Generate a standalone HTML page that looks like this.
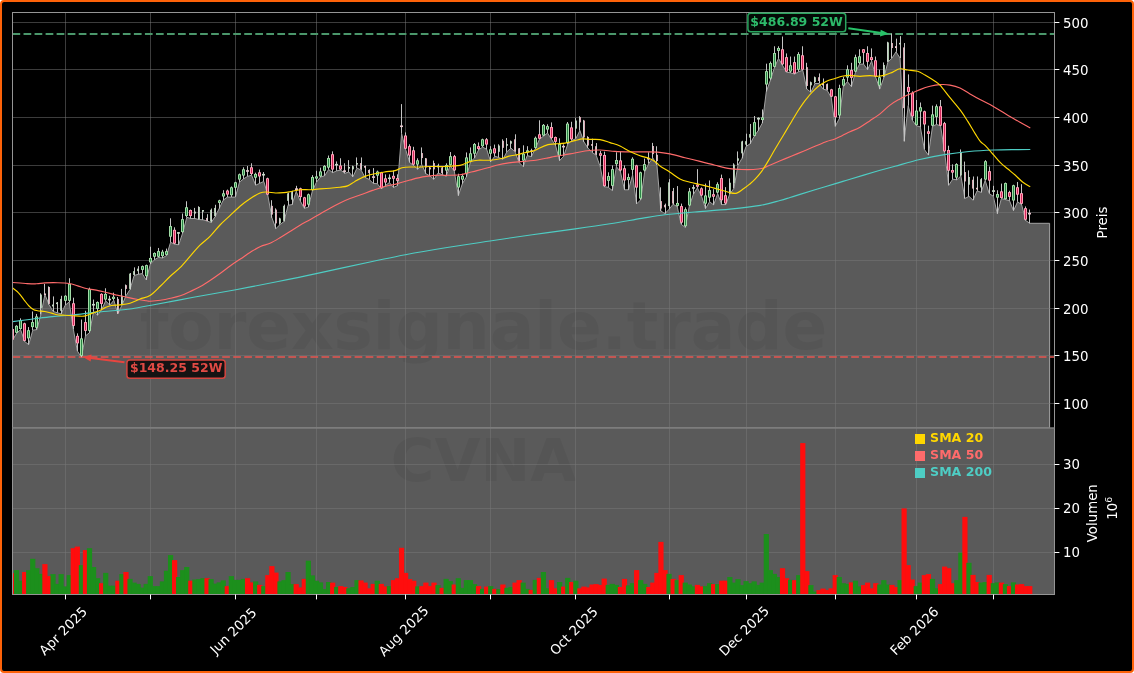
<!DOCTYPE html>
<html><head><meta charset="utf-8"><title>CVNA Chart</title>
<style>
html,body{margin:0;padding:0;background:#fff;}
#wrap{position:relative;width:1134px;height:673px;overflow:hidden;background:#fff;}
#frame{position:absolute;left:0;top:0;width:1130px;height:669px;border:2px solid #fd6209;border-radius:4px;background:#000;}
</style></head><body>
<div id="wrap"><div id="frame"></div>
<svg width="1134" height="673" viewBox="0 0 1134 673" style="position:absolute;left:0;top:0" font-family="DejaVu Sans, Liberation Sans, sans-serif">
<defs><clipPath id="cp"><rect x="12.5" y="12.5" width="1042.0" height="415.5"/></clipPath><clipPath id="cv"><rect x="12.5" y="428.0" width="1042.0" height="166.5"/></clipPath></defs>
<rect x="12.5" y="428.0" width="1042.0" height="166.5" fill="#5a5a5a"/>
<g clip-path="url(#cp)">
<path d="M12.5,428.0 L12.5,340.2 L16.6,333.3 L20.6,329.6 L24.7,341.5 L28.7,344.6 L32.8,330.2 L36.8,329.6 L40.9,314.6 L44.9,294.5 L49.0,304.5 L53.0,311.4 L57.1,312.7 L61.1,313.9 L65.2,305.2 L69.2,302.0 L73.3,329.0 L77.3,350.9 L81.4,357.1 L85.5,335.9 L89.5,332.7 L93.6,311.4 L97.6,315.2 L101.7,309.6 L105.7,300.8 L109.8,305.2 L113.8,300.2 L117.9,313.9 L121.9,305.2 L126.0,295.8 L130.0,289.5 L134.1,275.5 L138.1,274.3 L142.2,273.6 L146.2,279.9 L150.3,264.2 L154.3,259.9 L158.4,257.4 L162.5,258.0 L166.5,255.5 L170.6,242.3 L174.6,244.2 L178.7,244.8 L182.7,232.9 L186.8,217.3 L190.8,218.5 L194.9,218.5 L198.9,219.5 L203.0,219.8 L207.0,221.0 L211.1,222.5 L215.1,216.7 L219.2,208.5 L223.2,200.2 L227.3,197.1 L231.4,197.1 L235.4,197.1 L239.5,182.1 L243.5,178.9 L247.6,176.4 L251.6,175.2 L255.7,185.2 L259.7,183.3 L263.8,181.4 L267.8,195.2 L271.9,217.7 L275.9,228.6 L280.0,224.6 L284.0,221.5 L288.1,205.2 L292.1,204.6 L296.2,191.4 L300.2,200.8 L304.3,208.3 L308.4,207.1 L312.4,190.8 L316.5,182.1 L320.5,177.0 L324.6,175.8 L328.6,169.5 L332.7,172.7 L336.7,170.8 L340.8,170.2 L344.8,173.3 L348.9,172.0 L352.9,176.9 L357.0,168.1 L361.0,170.0 L365.1,177.5 L369.1,179.4 L373.2,183.4 L377.3,183.7 L381.3,188.7 L385.4,185.6 L389.4,182.5 L393.5,187.5 L397.5,185.6 L401.6,133.7 L405.6,149.3 L409.7,162.5 L413.7,165.6 L417.8,169.3 L421.8,164.6 L425.9,173.7 L429.9,175.9 L434.0,179.4 L438.0,173.1 L442.1,174.6 L446.1,176.2 L450.2,165.6 L454.3,171.2 L458.3,195.6 L462.4,183.7 L466.4,176.9 L470.5,161.8 L474.5,158.1 L478.6,149.9 L482.6,147.1 L486.7,149.3 L490.7,161.8 L494.8,156.2 L498.8,157.5 L502.9,159.3 L506.9,151.8 L511.0,148.1 L515.0,151.8 L519.1,162.5 L523.2,166.6 L527.2,155.6 L531.3,156.6 L535.3,148.7 L539.4,139.3 L543.4,136.2 L547.5,133.0 L551.5,139.3 L555.6,145.6 L559.6,160.6 L563.7,156.2 L567.7,144.3 L571.8,140.6 L575.8,138.7 L579.9,130.5 L583.9,141.8 L588.0,148.1 L592.1,152.5 L596.1,155.0 L600.2,166.7 L604.2,186.7 L608.3,187.3 L612.3,190.5 L616.4,166.7 L620.4,171.7 L624.5,189.8 L628.5,189.8 L632.6,174.8 L636.6,203.9 L640.7,199.8 L644.7,171.7 L648.8,163.5 L652.8,157.9 L656.9,164.8 L660.9,211.1 L665.0,213.6 L669.1,209.2 L673.1,204.2 L677.2,206.7 L681.2,224.3 L685.3,227.4 L689.3,206.1 L693.4,194.2 L697.4,187.9 L701.5,196.1 L705.5,208.6 L709.6,201.7 L713.6,204.9 L717.7,193.6 L721.7,204.6 L725.8,204.6 L729.8,194.0 L733.9,188.4 L738.0,165.2 L742.0,158.3 L746.1,146.4 L750.1,143.8 L754.2,136.3 L758.2,130.6 L762.3,123.1 L766.3,91.6 L770.4,80.3 L774.4,67.6 L778.5,58.4 L782.5,65.3 L786.6,72.2 L790.6,72.8 L794.7,74.1 L798.7,71.6 L802.8,70.3 L806.8,89.1 L810.9,92.2 L815.0,83.5 L819.0,83.5 L823.1,89.1 L827.1,90.3 L831.2,97.2 L835.2,126.4 L839.3,118.5 L843.3,86.6 L847.4,81.6 L851.4,86.6 L855.5,72.2 L859.5,64.1 L863.6,64.1 L867.6,69.7 L871.7,60.9 L875.7,77.2 L879.8,89.1 L883.9,77.5 L887.9,62.1 L892.0,58.1 L896.0,51.8 L900.1,58.1 L904.1,141.3 L908.2,105.7 L912.2,120.1 L916.3,125.7 L920.3,126.9 L924.4,149.5 L928.4,155.1 L932.5,126.3 L936.5,124.4 L940.6,126.0 L944.6,152.0 L948.7,185.3 L952.7,179.2 L956.8,179.8 L960.9,175.9 L964.9,198.5 L969.0,196.3 L973.0,200.2 L977.1,190.8 L981.1,192.4 L985.2,180.3 L989.2,193.5 L993.3,196.3 L997.3,213.7 L1001.4,198.5 L1005.4,199.6 L1009.5,200.7 L1013.5,210.6 L1017.6,201.8 L1021.6,204.6 L1025.7,220.5 L1029.8,223.3 L1049.6,223.3 L1049.6,428.0 Z" fill="#5a5a5a" stroke="#a2a2a2" stroke-width="1" stroke-linejoin="round"/>
</g>
<text x="483.5" y="348.5" text-anchor="middle" font-size="66" font-weight="bold" fill="#000" fill-opacity="0.055">forexsignale.trade</text>
<text x="483.5" y="480.5" text-anchor="middle" font-size="59.5" font-weight="bold" fill="#000" fill-opacity="0.055">CVNA</text>
<line x1="12.5" x2="1054.5" y1="403.5" y2="403.5" stroke="#787878" stroke-opacity="0.5" stroke-width="1"/>
<line x1="12.5" x2="1054.5" y1="355.5" y2="355.5" stroke="#787878" stroke-opacity="0.5" stroke-width="1"/>
<line x1="12.5" x2="1054.5" y1="308.5" y2="308.5" stroke="#787878" stroke-opacity="0.5" stroke-width="1"/>
<line x1="12.5" x2="1054.5" y1="260.5" y2="260.5" stroke="#787878" stroke-opacity="0.5" stroke-width="1"/>
<line x1="12.5" x2="1054.5" y1="212.5" y2="212.5" stroke="#787878" stroke-opacity="0.5" stroke-width="1"/>
<line x1="12.5" x2="1054.5" y1="165.5" y2="165.5" stroke="#787878" stroke-opacity="0.5" stroke-width="1"/>
<line x1="12.5" x2="1054.5" y1="117.5" y2="117.5" stroke="#787878" stroke-opacity="0.5" stroke-width="1"/>
<line x1="12.5" x2="1054.5" y1="69.5" y2="69.5" stroke="#787878" stroke-opacity="0.5" stroke-width="1"/>
<line x1="12.5" x2="1054.5" y1="22.5" y2="22.5" stroke="#787878" stroke-opacity="0.5" stroke-width="1"/>
<line x1="65.5" x2="65.5" y1="12.5" y2="594.5" stroke="#787878" stroke-opacity="0.5" stroke-width="1"/>
<line x1="150.5" x2="150.5" y1="12.5" y2="594.5" stroke="#787878" stroke-opacity="0.5" stroke-width="1"/>
<line x1="235.5" x2="235.5" y1="12.5" y2="594.5" stroke="#787878" stroke-opacity="0.5" stroke-width="1"/>
<line x1="316.5" x2="316.5" y1="12.5" y2="594.5" stroke="#787878" stroke-opacity="0.5" stroke-width="1"/>
<line x1="405.5" x2="405.5" y1="12.5" y2="594.5" stroke="#787878" stroke-opacity="0.5" stroke-width="1"/>
<line x1="490.5" x2="490.5" y1="12.5" y2="594.5" stroke="#787878" stroke-opacity="0.5" stroke-width="1"/>
<line x1="575.5" x2="575.5" y1="12.5" y2="594.5" stroke="#787878" stroke-opacity="0.5" stroke-width="1"/>
<line x1="669.5" x2="669.5" y1="12.5" y2="594.5" stroke="#787878" stroke-opacity="0.5" stroke-width="1"/>
<line x1="746.5" x2="746.5" y1="12.5" y2="594.5" stroke="#787878" stroke-opacity="0.5" stroke-width="1"/>
<line x1="835.5" x2="835.5" y1="12.5" y2="594.5" stroke="#787878" stroke-opacity="0.5" stroke-width="1"/>
<line x1="916.5" x2="916.5" y1="12.5" y2="594.5" stroke="#787878" stroke-opacity="0.5" stroke-width="1"/>
<line x1="993.5" x2="993.5" y1="12.5" y2="594.5" stroke="#787878" stroke-opacity="0.5" stroke-width="1"/>
<line x1="12.5" x2="1054.5" y1="552.5" y2="552.5" stroke="#787878" stroke-opacity="0.5" stroke-width="1"/>
<line x1="12.5" x2="1054.5" y1="508.5" y2="508.5" stroke="#787878" stroke-opacity="0.5" stroke-width="1"/>
<line x1="12.5" x2="1054.5" y1="464.5" y2="464.5" stroke="#787878" stroke-opacity="0.5" stroke-width="1"/>
<line x1="12.5" x2="1054.5" y1="34" y2="34" stroke="#4b976b" stroke-width="2" stroke-dasharray="7.71 3.325"/>
<line x1="12.5" x2="1054.5" y1="357" y2="357" stroke="#e2544f" stroke-width="2" stroke-dasharray="7.71 3.325" stroke-opacity="0.78"/>
<g clip-path="url(#cv)">
<rect x="9.90" y="573.2" width="5.2" height="23.3" fill="#ff0d0d"/>
<rect x="13.95" y="570.1" width="5.2" height="26.4" fill="#1c8f1c"/>
<rect x="18.01" y="580.7" width="5.2" height="15.8" fill="#1c8f1c"/>
<rect x="22.06" y="572.0" width="5.2" height="24.5" fill="#ff0d0d"/>
<rect x="26.11" y="570.1" width="5.2" height="26.4" fill="#1c8f1c"/>
<rect x="30.16" y="558.8" width="5.2" height="37.7" fill="#1c8f1c"/>
<rect x="34.22" y="568.2" width="5.2" height="28.3" fill="#1c8f1c"/>
<rect x="38.27" y="573.9" width="5.2" height="22.6" fill="#1c8f1c"/>
<rect x="42.32" y="564.1" width="5.2" height="32.4" fill="#ff0d0d"/>
<rect x="46.38" y="576.1" width="5.2" height="20.4" fill="#ff0d0d"/>
<rect x="50.43" y="574.1" width="5.2" height="22.4" fill="#1c8f1c"/>
<rect x="54.48" y="583.9" width="5.2" height="12.6" fill="#1c8f1c"/>
<rect x="58.53" y="574.1" width="5.2" height="22.4" fill="#1c8f1c"/>
<rect x="62.59" y="586.4" width="5.2" height="10.1" fill="#1c8f1c"/>
<rect x="66.64" y="575.1" width="5.2" height="21.4" fill="#1c8f1c"/>
<rect x="70.69" y="548.2" width="5.2" height="48.3" fill="#ff0d0d"/>
<rect x="74.74" y="546.6" width="5.2" height="49.9" fill="#ff0d0d"/>
<rect x="78.80" y="565.1" width="5.2" height="31.4" fill="#1c8f1c"/>
<rect x="82.85" y="550.1" width="5.2" height="46.4" fill="#ff0d0d"/>
<rect x="86.90" y="548.2" width="5.2" height="48.3" fill="#1c8f1c"/>
<rect x="90.96" y="567.0" width="5.2" height="29.5" fill="#1c8f1c"/>
<rect x="95.01" y="578.2" width="5.2" height="18.3" fill="#1c8f1c"/>
<rect x="99.06" y="583.2" width="5.2" height="13.3" fill="#ff0d0d"/>
<rect x="103.11" y="572.9" width="5.2" height="23.6" fill="#1c8f1c"/>
<rect x="107.17" y="585.7" width="5.2" height="10.8" fill="#1c8f1c"/>
<rect x="111.22" y="585.7" width="5.2" height="10.8" fill="#1c8f1c"/>
<rect x="115.27" y="580.7" width="5.2" height="15.8" fill="#ff0d0d"/>
<rect x="119.33" y="574.1" width="5.2" height="22.4" fill="#1c8f1c"/>
<rect x="123.38" y="572.0" width="5.2" height="24.5" fill="#ff0d0d"/>
<rect x="127.43" y="578.9" width="5.2" height="17.6" fill="#1c8f1c"/>
<rect x="131.48" y="582.6" width="5.2" height="13.9" fill="#1c8f1c"/>
<rect x="135.54" y="583.9" width="5.2" height="12.6" fill="#1c8f1c"/>
<rect x="139.59" y="587.6" width="5.2" height="8.9" fill="#1c8f1c"/>
<rect x="143.64" y="583.9" width="5.2" height="12.6" fill="#1c8f1c"/>
<rect x="147.70" y="576.1" width="5.2" height="20.4" fill="#1c8f1c"/>
<rect x="151.75" y="586.1" width="5.2" height="10.4" fill="#1c8f1c"/>
<rect x="155.80" y="586.1" width="5.2" height="10.4" fill="#1c8f1c"/>
<rect x="159.85" y="581.4" width="5.2" height="15.1" fill="#1c8f1c"/>
<rect x="163.91" y="570.7" width="5.2" height="25.8" fill="#1c8f1c"/>
<rect x="167.96" y="555.1" width="5.2" height="41.4" fill="#1c8f1c"/>
<rect x="172.01" y="560.1" width="5.2" height="36.4" fill="#ff0d0d"/>
<rect x="176.06" y="577.0" width="5.2" height="19.5" fill="#1c8f1c"/>
<rect x="180.12" y="570.1" width="5.2" height="26.4" fill="#1c8f1c"/>
<rect x="184.17" y="567.0" width="5.2" height="29.5" fill="#1c8f1c"/>
<rect x="188.22" y="580.7" width="5.2" height="15.8" fill="#ff0d0d"/>
<rect x="192.28" y="579.5" width="5.2" height="17.0" fill="#1c8f1c"/>
<rect x="196.33" y="579.1" width="5.2" height="17.4" fill="#1c8f1c"/>
<rect x="200.38" y="578.2" width="5.2" height="18.3" fill="#1c8f1c"/>
<rect x="204.43" y="578.2" width="5.2" height="18.3" fill="#ff0d0d"/>
<rect x="208.49" y="579.1" width="5.2" height="17.4" fill="#1c8f1c"/>
<rect x="212.54" y="583.6" width="5.2" height="12.9" fill="#1c8f1c"/>
<rect x="216.59" y="582.4" width="5.2" height="14.1" fill="#1c8f1c"/>
<rect x="220.65" y="580.4" width="5.2" height="16.1" fill="#1c8f1c"/>
<rect x="224.70" y="586.1" width="5.2" height="10.4" fill="#ff0d0d"/>
<rect x="228.75" y="576.1" width="5.2" height="20.4" fill="#1c8f1c"/>
<rect x="232.80" y="579.9" width="5.2" height="16.6" fill="#1c8f1c"/>
<rect x="236.86" y="579.9" width="5.2" height="16.6" fill="#1c8f1c"/>
<rect x="240.91" y="578.9" width="5.2" height="17.6" fill="#1c8f1c"/>
<rect x="244.96" y="578.2" width="5.2" height="18.3" fill="#ff0d0d"/>
<rect x="249.02" y="582.4" width="5.2" height="14.1" fill="#ff0d0d"/>
<rect x="253.07" y="581.4" width="5.2" height="15.1" fill="#1c8f1c"/>
<rect x="257.12" y="584.9" width="5.2" height="11.6" fill="#ff0d0d"/>
<rect x="261.17" y="586.1" width="5.2" height="10.4" fill="#1c8f1c"/>
<rect x="265.23" y="575.1" width="5.2" height="21.4" fill="#ff0d0d"/>
<rect x="269.28" y="566.1" width="5.2" height="30.4" fill="#ff0d0d"/>
<rect x="273.33" y="572.6" width="5.2" height="23.9" fill="#ff0d0d"/>
<rect x="277.38" y="581.4" width="5.2" height="15.1" fill="#1c8f1c"/>
<rect x="281.44" y="580.1" width="5.2" height="16.4" fill="#1c8f1c"/>
<rect x="285.49" y="572.0" width="5.2" height="24.5" fill="#1c8f1c"/>
<rect x="289.54" y="584.1" width="5.2" height="12.4" fill="#1c8f1c"/>
<rect x="293.60" y="584.1" width="5.2" height="12.4" fill="#ff0d0d"/>
<rect x="297.65" y="587.4" width="5.2" height="9.1" fill="#ff0d0d"/>
<rect x="301.70" y="578.9" width="5.2" height="17.6" fill="#ff0d0d"/>
<rect x="305.75" y="560.7" width="5.2" height="35.8" fill="#1c8f1c"/>
<rect x="309.81" y="575.4" width="5.2" height="21.1" fill="#1c8f1c"/>
<rect x="313.86" y="580.7" width="5.2" height="15.8" fill="#1c8f1c"/>
<rect x="317.91" y="582.4" width="5.2" height="14.1" fill="#1c8f1c"/>
<rect x="321.97" y="589.1" width="5.2" height="7.4" fill="#1c8f1c"/>
<rect x="326.02" y="582.0" width="5.2" height="14.5" fill="#1c8f1c"/>
<rect x="330.07" y="582.6" width="5.2" height="13.9" fill="#ff0d0d"/>
<rect x="334.12" y="587.0" width="5.2" height="9.5" fill="#1c8f1c"/>
<rect x="338.18" y="586.1" width="5.2" height="10.4" fill="#ff0d0d"/>
<rect x="342.23" y="587.0" width="5.2" height="9.5" fill="#ff0d0d"/>
<rect x="346.28" y="588.3" width="5.2" height="8.2" fill="#1c8f1c"/>
<rect x="350.34" y="587.0" width="5.2" height="9.5" fill="#1c8f1c"/>
<rect x="354.39" y="580.1" width="5.2" height="16.4" fill="#1c8f1c"/>
<rect x="358.44" y="580.4" width="5.2" height="16.1" fill="#ff0d0d"/>
<rect x="362.49" y="582.6" width="5.2" height="13.9" fill="#ff0d0d"/>
<rect x="366.55" y="588.3" width="5.2" height="8.2" fill="#ff0d0d"/>
<rect x="370.60" y="583.9" width="5.2" height="12.6" fill="#ff0d0d"/>
<rect x="374.65" y="580.7" width="5.2" height="15.8" fill="#1c8f1c"/>
<rect x="378.70" y="583.9" width="5.2" height="12.6" fill="#ff0d0d"/>
<rect x="382.76" y="586.4" width="5.2" height="10.1" fill="#ff0d0d"/>
<rect x="386.81" y="586.1" width="5.2" height="10.4" fill="#1c8f1c"/>
<rect x="390.86" y="580.1" width="5.2" height="16.4" fill="#ff0d0d"/>
<rect x="394.92" y="578.2" width="5.2" height="18.3" fill="#ff0d0d"/>
<rect x="398.97" y="547.8" width="5.2" height="48.7" fill="#ff0d0d"/>
<rect x="403.02" y="572.9" width="5.2" height="23.6" fill="#ff0d0d"/>
<rect x="407.07" y="579.1" width="5.2" height="17.4" fill="#ff0d0d"/>
<rect x="411.13" y="580.7" width="5.2" height="15.8" fill="#ff0d0d"/>
<rect x="415.18" y="586.4" width="5.2" height="10.1" fill="#1c8f1c"/>
<rect x="419.23" y="586.1" width="5.2" height="10.4" fill="#ff0d0d"/>
<rect x="423.29" y="582.6" width="5.2" height="13.9" fill="#ff0d0d"/>
<rect x="427.34" y="586.1" width="5.2" height="10.4" fill="#ff0d0d"/>
<rect x="431.39" y="582.6" width="5.2" height="13.9" fill="#ff0d0d"/>
<rect x="435.44" y="585.1" width="5.2" height="11.4" fill="#1c8f1c"/>
<rect x="439.50" y="587.9" width="5.2" height="8.6" fill="#ff0d0d"/>
<rect x="443.55" y="578.9" width="5.2" height="17.6" fill="#1c8f1c"/>
<rect x="447.60" y="581.1" width="5.2" height="15.4" fill="#1c8f1c"/>
<rect x="451.66" y="584.5" width="5.2" height="12.0" fill="#ff0d0d"/>
<rect x="455.71" y="578.2" width="5.2" height="18.3" fill="#1c8f1c"/>
<rect x="459.76" y="587.9" width="5.2" height="8.6" fill="#1c8f1c"/>
<rect x="463.81" y="580.1" width="5.2" height="16.4" fill="#1c8f1c"/>
<rect x="467.87" y="580.1" width="5.2" height="16.4" fill="#1c8f1c"/>
<rect x="471.92" y="584.1" width="5.2" height="12.4" fill="#1c8f1c"/>
<rect x="475.97" y="586.1" width="5.2" height="10.4" fill="#ff0d0d"/>
<rect x="480.02" y="588.9" width="5.2" height="7.6" fill="#1c8f1c"/>
<rect x="484.08" y="586.6" width="5.2" height="9.9" fill="#ff0d0d"/>
<rect x="488.13" y="586.1" width="5.2" height="10.4" fill="#1c8f1c"/>
<rect x="492.18" y="588.9" width="5.2" height="7.6" fill="#ff0d0d"/>
<rect x="496.24" y="589.1" width="5.2" height="7.4" fill="#1c8f1c"/>
<rect x="500.29" y="584.5" width="5.2" height="12.0" fill="#ff0d0d"/>
<rect x="504.34" y="587.9" width="5.2" height="8.6" fill="#1c8f1c"/>
<rect x="508.39" y="587.0" width="5.2" height="9.5" fill="#1c8f1c"/>
<rect x="512.45" y="582.6" width="5.2" height="13.9" fill="#ff0d0d"/>
<rect x="516.50" y="580.1" width="5.2" height="16.4" fill="#ff0d0d"/>
<rect x="520.55" y="582.6" width="5.2" height="13.9" fill="#1c8f1c"/>
<rect x="524.61" y="588.9" width="5.2" height="7.6" fill="#1c8f1c"/>
<rect x="528.66" y="589.9" width="5.2" height="6.6" fill="#ff0d0d"/>
<rect x="532.71" y="579.9" width="5.2" height="16.6" fill="#1c8f1c"/>
<rect x="536.76" y="577.9" width="5.2" height="18.6" fill="#ff0d0d"/>
<rect x="540.82" y="572.0" width="5.2" height="24.5" fill="#1c8f1c"/>
<rect x="544.87" y="588.3" width="5.2" height="8.2" fill="#1c8f1c"/>
<rect x="548.92" y="580.1" width="5.2" height="16.4" fill="#ff0d0d"/>
<rect x="552.98" y="588.3" width="5.2" height="8.2" fill="#ff0d0d"/>
<rect x="557.03" y="582.0" width="5.2" height="14.5" fill="#1c8f1c"/>
<rect x="561.08" y="586.6" width="5.2" height="9.9" fill="#ff0d0d"/>
<rect x="565.13" y="577.9" width="5.2" height="18.6" fill="#1c8f1c"/>
<rect x="569.19" y="582.0" width="5.2" height="14.5" fill="#ff0d0d"/>
<rect x="573.24" y="580.7" width="5.2" height="15.8" fill="#1c8f1c"/>
<rect x="577.29" y="588.3" width="5.2" height="8.2" fill="#ff0d0d"/>
<rect x="581.34" y="586.6" width="5.2" height="9.9" fill="#ff0d0d"/>
<rect x="585.40" y="587.4" width="5.2" height="9.1" fill="#ff0d0d"/>
<rect x="589.45" y="584.5" width="5.2" height="12.0" fill="#ff0d0d"/>
<rect x="593.50" y="584.1" width="5.2" height="12.4" fill="#ff0d0d"/>
<rect x="597.56" y="584.9" width="5.2" height="11.6" fill="#ff0d0d"/>
<rect x="601.61" y="578.6" width="5.2" height="17.9" fill="#ff0d0d"/>
<rect x="605.66" y="584.9" width="5.2" height="11.6" fill="#1c8f1c"/>
<rect x="609.71" y="583.9" width="5.2" height="12.6" fill="#1c8f1c"/>
<rect x="613.77" y="584.9" width="5.2" height="11.6" fill="#1c8f1c"/>
<rect x="617.82" y="587.0" width="5.2" height="9.5" fill="#ff0d0d"/>
<rect x="621.87" y="578.9" width="5.2" height="17.6" fill="#ff0d0d"/>
<rect x="625.93" y="585.4" width="5.2" height="11.1" fill="#1c8f1c"/>
<rect x="629.98" y="583.2" width="5.2" height="13.3" fill="#1c8f1c"/>
<rect x="634.03" y="570.1" width="5.2" height="26.4" fill="#ff0d0d"/>
<rect x="638.08" y="580.1" width="5.2" height="16.4" fill="#1c8f1c"/>
<rect x="642.14" y="583.9" width="5.2" height="12.6" fill="#1c8f1c"/>
<rect x="646.19" y="587.0" width="5.2" height="9.5" fill="#ff0d0d"/>
<rect x="650.24" y="582.6" width="5.2" height="13.9" fill="#ff0d0d"/>
<rect x="654.30" y="572.9" width="5.2" height="23.6" fill="#ff0d0d"/>
<rect x="658.35" y="541.9" width="5.2" height="54.6" fill="#ff0d0d"/>
<rect x="662.40" y="570.1" width="5.2" height="26.4" fill="#ff0d0d"/>
<rect x="666.45" y="573.9" width="5.2" height="22.6" fill="#1c8f1c"/>
<rect x="670.51" y="578.9" width="5.2" height="17.6" fill="#ff0d0d"/>
<rect x="674.56" y="580.1" width="5.2" height="16.4" fill="#1c8f1c"/>
<rect x="678.61" y="575.1" width="5.2" height="21.4" fill="#ff0d0d"/>
<rect x="682.66" y="582.6" width="5.2" height="13.9" fill="#1c8f1c"/>
<rect x="686.72" y="584.5" width="5.2" height="12.0" fill="#1c8f1c"/>
<rect x="690.77" y="586.4" width="5.2" height="10.1" fill="#1c8f1c"/>
<rect x="694.82" y="584.9" width="5.2" height="11.6" fill="#ff0d0d"/>
<rect x="698.88" y="586.4" width="5.2" height="10.1" fill="#ff0d0d"/>
<rect x="702.93" y="586.1" width="5.2" height="10.4" fill="#1c8f1c"/>
<rect x="706.98" y="583.2" width="5.2" height="13.3" fill="#1c8f1c"/>
<rect x="711.03" y="584.1" width="5.2" height="12.4" fill="#ff0d0d"/>
<rect x="715.09" y="584.1" width="5.2" height="12.4" fill="#1c8f1c"/>
<rect x="719.14" y="580.7" width="5.2" height="15.8" fill="#ff0d0d"/>
<rect x="723.19" y="580.7" width="5.2" height="15.8" fill="#ff0d0d"/>
<rect x="727.25" y="577.0" width="5.2" height="19.5" fill="#1c8f1c"/>
<rect x="731.30" y="582.6" width="5.2" height="13.9" fill="#1c8f1c"/>
<rect x="735.35" y="579.1" width="5.2" height="17.4" fill="#1c8f1c"/>
<rect x="739.40" y="585.1" width="5.2" height="11.4" fill="#1c8f1c"/>
<rect x="743.46" y="581.1" width="5.2" height="15.4" fill="#1c8f1c"/>
<rect x="747.51" y="583.2" width="5.2" height="13.3" fill="#1c8f1c"/>
<rect x="751.56" y="581.4" width="5.2" height="15.1" fill="#1c8f1c"/>
<rect x="755.62" y="584.9" width="5.2" height="11.6" fill="#1c8f1c"/>
<rect x="759.67" y="582.6" width="5.2" height="13.9" fill="#1c8f1c"/>
<rect x="763.72" y="534.0" width="5.2" height="62.5" fill="#1c8f1c"/>
<rect x="767.77" y="570.1" width="5.2" height="26.4" fill="#1c8f1c"/>
<rect x="771.83" y="573.9" width="5.2" height="22.6" fill="#1c8f1c"/>
<rect x="775.88" y="577.0" width="5.2" height="19.5" fill="#1c8f1c"/>
<rect x="779.93" y="568.2" width="5.2" height="28.3" fill="#ff0d0d"/>
<rect x="783.98" y="578.2" width="5.2" height="18.3" fill="#ff0d0d"/>
<rect x="788.04" y="579.9" width="5.2" height="16.6" fill="#1c8f1c"/>
<rect x="792.09" y="580.1" width="5.2" height="16.4" fill="#ff0d0d"/>
<rect x="796.14" y="575.1" width="5.2" height="21.4" fill="#1c8f1c"/>
<rect x="800.20" y="443.1" width="5.2" height="153.4" fill="#ff0d0d"/>
<rect x="804.25" y="571.1" width="5.2" height="25.4" fill="#ff0d0d"/>
<rect x="808.30" y="585.1" width="5.2" height="11.4" fill="#1c8f1c"/>
<rect x="812.35" y="591.6" width="5.2" height="4.9" fill="#1c8f1c"/>
<rect x="816.41" y="590.1" width="5.2" height="6.4" fill="#ff0d0d"/>
<rect x="820.46" y="588.6" width="5.2" height="7.9" fill="#ff0d0d"/>
<rect x="824.51" y="590.1" width="5.2" height="6.4" fill="#ff0d0d"/>
<rect x="828.57" y="588.3" width="5.2" height="8.2" fill="#ff0d0d"/>
<rect x="832.62" y="575.1" width="5.2" height="21.4" fill="#ff0d0d"/>
<rect x="836.67" y="577.0" width="5.2" height="19.5" fill="#1c8f1c"/>
<rect x="840.72" y="583.2" width="5.2" height="13.3" fill="#1c8f1c"/>
<rect x="844.78" y="583.9" width="5.2" height="12.6" fill="#1c8f1c"/>
<rect x="848.83" y="582.4" width="5.2" height="14.1" fill="#ff0d0d"/>
<rect x="852.88" y="580.7" width="5.2" height="15.8" fill="#1c8f1c"/>
<rect x="856.94" y="586.4" width="5.2" height="10.1" fill="#1c8f1c"/>
<rect x="860.99" y="585.1" width="5.2" height="11.4" fill="#ff0d0d"/>
<rect x="865.04" y="582.6" width="5.2" height="13.9" fill="#ff0d0d"/>
<rect x="869.09" y="588.3" width="5.2" height="8.2" fill="#ff0d0d"/>
<rect x="873.15" y="583.2" width="5.2" height="13.3" fill="#ff0d0d"/>
<rect x="877.20" y="584.5" width="5.2" height="12.0" fill="#1c8f1c"/>
<rect x="881.25" y="580.1" width="5.2" height="16.4" fill="#1c8f1c"/>
<rect x="885.30" y="584.5" width="5.2" height="12.0" fill="#1c8f1c"/>
<rect x="889.36" y="584.9" width="5.2" height="11.6" fill="#ff0d0d"/>
<rect x="893.41" y="587.0" width="5.2" height="9.5" fill="#ff0d0d"/>
<rect x="897.46" y="580.1" width="5.2" height="16.4" fill="#1c8f1c"/>
<rect x="901.52" y="508.4" width="5.2" height="88.1" fill="#ff0d0d"/>
<rect x="905.57" y="565.1" width="5.2" height="31.4" fill="#ff0d0d"/>
<rect x="909.62" y="579.5" width="5.2" height="17.0" fill="#ff0d0d"/>
<rect x="913.67" y="586.1" width="5.2" height="10.4" fill="#1c8f1c"/>
<rect x="917.73" y="582.6" width="5.2" height="13.9" fill="#1c8f1c"/>
<rect x="921.78" y="575.1" width="5.2" height="21.4" fill="#ff0d0d"/>
<rect x="925.83" y="574.1" width="5.2" height="22.4" fill="#ff0d0d"/>
<rect x="929.89" y="578.9" width="5.2" height="17.6" fill="#1c8f1c"/>
<rect x="933.94" y="588.3" width="5.2" height="8.2" fill="#1c8f1c"/>
<rect x="937.99" y="584.1" width="5.2" height="12.4" fill="#ff0d0d"/>
<rect x="942.04" y="566.6" width="5.2" height="29.9" fill="#ff0d0d"/>
<rect x="946.10" y="568.2" width="5.2" height="28.3" fill="#ff0d0d"/>
<rect x="950.15" y="583.2" width="5.2" height="13.3" fill="#ff0d0d"/>
<rect x="954.20" y="580.1" width="5.2" height="16.4" fill="#1c8f1c"/>
<rect x="958.26" y="552.6" width="5.2" height="43.9" fill="#1c8f1c"/>
<rect x="962.31" y="516.9" width="5.2" height="79.6" fill="#ff0d0d"/>
<rect x="966.36" y="562.8" width="5.2" height="33.7" fill="#1c8f1c"/>
<rect x="970.41" y="574.9" width="5.2" height="21.6" fill="#ff0d0d"/>
<rect x="974.47" y="582.0" width="5.2" height="14.5" fill="#ff0d0d"/>
<rect x="978.52" y="582.6" width="5.2" height="13.9" fill="#1c8f1c"/>
<rect x="982.57" y="582.0" width="5.2" height="14.5" fill="#1c8f1c"/>
<rect x="986.62" y="574.9" width="5.2" height="21.6" fill="#ff0d0d"/>
<rect x="990.68" y="583.2" width="5.2" height="13.3" fill="#1c8f1c"/>
<rect x="994.73" y="582.4" width="5.2" height="14.1" fill="#1c8f1c"/>
<rect x="998.78" y="582.6" width="5.2" height="13.9" fill="#ff0d0d"/>
<rect x="1002.84" y="584.1" width="5.2" height="12.4" fill="#1c8f1c"/>
<rect x="1006.89" y="586.1" width="5.2" height="10.4" fill="#ff0d0d"/>
<rect x="1010.94" y="582.4" width="5.2" height="14.1" fill="#1c8f1c"/>
<rect x="1014.99" y="584.5" width="5.2" height="12.0" fill="#ff0d0d"/>
<rect x="1019.05" y="584.1" width="5.2" height="12.4" fill="#ff0d0d"/>
<rect x="1023.10" y="586.1" width="5.2" height="10.4" fill="#ff0d0d"/>
<rect x="1027.15" y="586.1" width="5.2" height="10.4" fill="#ff0d0d"/>
</g>
<g clip-path="url(#cp)">
<rect x="12" y="328.34" width="1" height="11.90" fill="#c4c4c4"/>
<rect x="11" y="328.97" width="3" height="10.64" fill="#ffa0b6"/>
<rect x="12" y="329.82" width="1" height="8.94" fill="#d2265a"/>
<rect x="16" y="325.21" width="1" height="8.14" fill="#c4c4c4"/>
<rect x="15" y="325.84" width="3" height="6.89" fill="#a2dca6"/>
<rect x="16" y="326.69" width="1" height="5.19" fill="#2a8746"/>
<rect x="20" y="318.32" width="1" height="11.27" fill="#c4c4c4"/>
<rect x="19" y="320.20" width="3" height="8.77" fill="#a2dca6"/>
<rect x="20" y="321.05" width="1" height="7.07" fill="#2a8746"/>
<rect x="24" y="322.70" width="1" height="18.78" fill="#c4c4c4"/>
<rect x="23" y="323.33" width="3" height="17.53" fill="#ffa0b6"/>
<rect x="24" y="324.18" width="1" height="15.83" fill="#d2265a"/>
<rect x="28" y="327.09" width="1" height="17.53" fill="#c4c4c4"/>
<rect x="27" y="330.22" width="3" height="8.14" fill="#a2dca6"/>
<rect x="28" y="331.07" width="1" height="6.44" fill="#2a8746"/>
<rect x="32" y="311.44" width="1" height="18.78" fill="#c4c4c4"/>
<rect x="31" y="322.08" width="3" height="5.01" fill="#a2dca6"/>
<rect x="32" y="322.93" width="1" height="3.31" fill="#2a8746"/>
<rect x="36" y="313.94" width="1" height="15.65" fill="#c4c4c4"/>
<rect x="35" y="316.44" width="3" height="11.27" fill="#a2dca6"/>
<rect x="36" y="317.29" width="1" height="9.57" fill="#2a8746"/>
<rect x="40" y="293.28" width="1" height="21.29" fill="#c4c4c4"/>
<rect x="40" y="294.53" width="2" height="13.77" fill="#a9c6a9"/>
<rect x="40" y="294.53" width="1" height="13.77" fill="#cfd3cf"/>
<rect x="44" y="283.89" width="1" height="10.64" fill="#c4c4c4"/>
<rect x="44" y="293.48" width="2" height="1.60" fill="#e8c6ce"/>
<rect x="48" y="286.39" width="1" height="18.16" fill="#c4c4c4"/>
<rect x="48" y="287.02" width="2" height="16.90" fill="#dba6b3"/>
<rect x="48" y="287.02" width="1" height="16.90" fill="#cfd3cf"/>
<rect x="53" y="296.41" width="1" height="15.03" fill="#c4c4c4"/>
<rect x="52" y="304.55" width="2" height="1.88" fill="#c6d8c6"/>
<rect x="57" y="302.04" width="1" height="10.64" fill="#c4c4c4"/>
<rect x="56" y="302.50" width="2" height="1.60" fill="#c6d8c6"/>
<rect x="61" y="295.78" width="1" height="18.16" fill="#c4c4c4"/>
<rect x="60" y="298.91" width="2" height="11.90" fill="#a9c6a9"/>
<rect x="61" y="298.91" width="1" height="11.90" fill="#cfd3cf"/>
<rect x="65" y="295.16" width="1" height="10.02" fill="#c4c4c4"/>
<rect x="64" y="295.78" width="3" height="5.01" fill="#a2dca6"/>
<rect x="65" y="296.63" width="1" height="3.31" fill="#2a8746"/>
<rect x="69" y="278.25" width="1" height="23.79" fill="#c4c4c4"/>
<rect x="68" y="283.89" width="3" height="16.90" fill="#a2dca6"/>
<rect x="69" y="284.74" width="1" height="15.20" fill="#2a8746"/>
<rect x="73" y="297.66" width="1" height="31.30" fill="#c4c4c4"/>
<rect x="72" y="303.30" width="3" height="22.54" fill="#ffa0b6"/>
<rect x="73" y="304.15" width="1" height="20.84" fill="#d2265a"/>
<rect x="77" y="333.35" width="1" height="17.53" fill="#c4c4c4"/>
<rect x="76" y="335.85" width="3" height="7.51" fill="#ffa0b6"/>
<rect x="77" y="336.70" width="1" height="5.81" fill="#d2265a"/>
<rect x="81" y="319.57" width="1" height="37.57" fill="#c4c4c4"/>
<rect x="80" y="338.36" width="3" height="17.53" fill="#a2dca6"/>
<rect x="81" y="339.21" width="1" height="15.83" fill="#2a8746"/>
<rect x="85" y="310.81" width="1" height="25.04" fill="#c4c4c4"/>
<rect x="84" y="322.08" width="3" height="8.77" fill="#ffa0b6"/>
<rect x="85" y="322.93" width="1" height="7.07" fill="#d2265a"/>
<rect x="89" y="287.64" width="1" height="45.08" fill="#c4c4c4"/>
<rect x="88" y="288.90" width="3" height="41.95" fill="#a2dca6"/>
<rect x="89" y="289.75" width="1" height="40.25" fill="#2a8746"/>
<rect x="93" y="299.54" width="1" height="11.90" fill="#c4c4c4"/>
<rect x="92" y="303.92" width="3" height="1.63" fill="#c6d8c6"/>
<rect x="97" y="301.42" width="1" height="13.77" fill="#c4c4c4"/>
<rect x="96" y="302.04" width="3" height="6.89" fill="#a2dca6"/>
<rect x="97" y="302.89" width="1" height="5.19" fill="#2a8746"/>
<rect x="101" y="293.28" width="1" height="16.28" fill="#c4c4c4"/>
<rect x="100" y="293.90" width="3" height="10.02" fill="#ffa0b6"/>
<rect x="101" y="294.75" width="1" height="8.32" fill="#d2265a"/>
<rect x="105" y="288.27" width="1" height="12.52" fill="#c4c4c4"/>
<rect x="104" y="293.90" width="3" height="5.63" fill="#a2dca6"/>
<rect x="105" y="294.75" width="1" height="3.93" fill="#2a8746"/>
<rect x="109" y="295.78" width="1" height="9.39" fill="#c4c4c4"/>
<rect x="108" y="298.74" width="3" height="1.60" fill="#c6d8c6"/>
<rect x="113" y="292.65" width="1" height="7.51" fill="#c4c4c4"/>
<rect x="112" y="296.78" width="3" height="2.13" fill="#a2dca6"/>
<rect x="113" y="297.63" width="1" height="0.43" fill="#2a8746"/>
<rect x="117" y="297.04" width="1" height="16.90" fill="#c4c4c4"/>
<rect x="117" y="298.91" width="2" height="14.40" fill="#dba6b3"/>
<rect x="117" y="298.91" width="1" height="14.40" fill="#cfd3cf"/>
<rect x="121" y="288.90" width="1" height="16.28" fill="#c4c4c4"/>
<rect x="121" y="295.78" width="2" height="8.77" fill="#a9c6a9"/>
<rect x="121" y="295.78" width="1" height="8.77" fill="#cfd3cf"/>
<rect x="125" y="284.51" width="1" height="11.27" fill="#c4c4c4"/>
<rect x="125" y="285.14" width="2" height="3.76" fill="#dba6b3"/>
<rect x="125" y="285.14" width="1" height="3.76" fill="#cfd3cf"/>
<rect x="130" y="272.99" width="1" height="16.53" fill="#c4c4c4"/>
<rect x="129" y="273.62" width="2" height="15.28" fill="#a9c6a9"/>
<rect x="130" y="273.62" width="1" height="15.28" fill="#cfd3cf"/>
<rect x="134" y="267.37" width="1" height="8.14" fill="#c4c4c4"/>
<rect x="133" y="271.13" width="2" height="3.76" fill="#a9c6a9"/>
<rect x="134" y="271.13" width="1" height="3.76" fill="#cfd3cf"/>
<rect x="138" y="266.12" width="1" height="8.14" fill="#c4c4c4"/>
<rect x="137" y="268.63" width="2" height="2.50" fill="#a9c6a9"/>
<rect x="138" y="268.63" width="1" height="2.50" fill="#cfd3cf"/>
<rect x="142" y="265.50" width="1" height="8.14" fill="#c4c4c4"/>
<rect x="141" y="266.12" width="3" height="3.76" fill="#a2dca6"/>
<rect x="142" y="266.97" width="1" height="2.06" fill="#2a8746"/>
<rect x="146" y="264.62" width="1" height="15.28" fill="#c4c4c4"/>
<rect x="145" y="265.12" width="3" height="11.02" fill="#a2dca6"/>
<rect x="146" y="265.97" width="1" height="9.32" fill="#2a8746"/>
<rect x="150" y="246.71" width="1" height="17.53" fill="#c4c4c4"/>
<rect x="149" y="257.98" width="3" height="4.38" fill="#a2dca6"/>
<rect x="150" y="258.83" width="1" height="2.68" fill="#2a8746"/>
<rect x="154" y="252.35" width="1" height="7.51" fill="#c4c4c4"/>
<rect x="153" y="252.97" width="3" height="3.76" fill="#a2dca6"/>
<rect x="154" y="253.82" width="1" height="2.06" fill="#2a8746"/>
<rect x="158" y="247.97" width="1" height="9.39" fill="#c4c4c4"/>
<rect x="157" y="251.10" width="3" height="5.63" fill="#a2dca6"/>
<rect x="158" y="251.95" width="1" height="3.93" fill="#2a8746"/>
<rect x="162" y="249.84" width="1" height="8.14" fill="#c4c4c4"/>
<rect x="161" y="251.72" width="3" height="4.38" fill="#a2dca6"/>
<rect x="162" y="252.57" width="1" height="2.68" fill="#2a8746"/>
<rect x="166" y="248.59" width="1" height="6.89" fill="#c4c4c4"/>
<rect x="165" y="251.10" width="3" height="3.76" fill="#a2dca6"/>
<rect x="166" y="251.95" width="1" height="2.06" fill="#2a8746"/>
<rect x="170" y="218.29" width="1" height="24.04" fill="#c4c4c4"/>
<rect x="169" y="226.05" width="3" height="10.64" fill="#a2dca6"/>
<rect x="170" y="226.90" width="1" height="8.94" fill="#2a8746"/>
<rect x="174" y="227.30" width="1" height="16.90" fill="#c4c4c4"/>
<rect x="173" y="229.81" width="3" height="13.77" fill="#ffa0b6"/>
<rect x="174" y="230.66" width="1" height="12.07" fill="#d2265a"/>
<rect x="178" y="232.06" width="1" height="12.77" fill="#c4c4c4"/>
<rect x="177" y="232.14" width="3" height="1.60" fill="#c6d8c6"/>
<rect x="182" y="213.53" width="1" height="19.41" fill="#c4c4c4"/>
<rect x="181" y="219.17" width="3" height="12.90" fill="#a2dca6"/>
<rect x="182" y="220.02" width="1" height="11.20" fill="#2a8746"/>
<rect x="186" y="201.26" width="1" height="16.03" fill="#c4c4c4"/>
<rect x="185" y="207.27" width="3" height="8.77" fill="#a2dca6"/>
<rect x="186" y="208.12" width="1" height="7.07" fill="#2a8746"/>
<rect x="190" y="209.52" width="1" height="9.02" fill="#c4c4c4"/>
<rect x="189" y="210.02" width="3" height="6.01" fill="#ffa0b6"/>
<rect x="190" y="210.87" width="1" height="4.31" fill="#d2265a"/>
<rect x="194" y="207.90" width="1" height="10.64" fill="#c4c4c4"/>
<rect x="194" y="211.65" width="2" height="1.88" fill="#c6d8c6"/>
<rect x="198" y="206.27" width="1" height="13.27" fill="#c4c4c4"/>
<rect x="198" y="207.02" width="2" height="12.15" fill="#a9c6a9"/>
<rect x="198" y="207.02" width="1" height="12.15" fill="#cfd3cf"/>
<rect x="202" y="210.02" width="1" height="9.77" fill="#c4c4c4"/>
<rect x="202" y="210.02" width="2" height="1.63" fill="#c6d8c6"/>
<rect x="207" y="214.16" width="1" height="6.89" fill="#c4c4c4"/>
<rect x="206" y="217.91" width="2" height="3.13" fill="#dba6b3"/>
<rect x="207" y="217.91" width="1" height="3.13" fill="#cfd3cf"/>
<rect x="211" y="208.52" width="1" height="14.02" fill="#c4c4c4"/>
<rect x="210" y="209.77" width="2" height="11.90" fill="#a9c6a9"/>
<rect x="211" y="209.77" width="1" height="11.90" fill="#cfd3cf"/>
<rect x="215" y="204.77" width="1" height="11.90" fill="#c4c4c4"/>
<rect x="214" y="207.90" width="2" height="8.14" fill="#a9c6a9"/>
<rect x="215" y="207.90" width="1" height="8.14" fill="#cfd3cf"/>
<rect x="219" y="199.76" width="1" height="8.77" fill="#c4c4c4"/>
<rect x="218" y="200.38" width="3" height="2.50" fill="#a2dca6"/>
<rect x="219" y="201.23" width="1" height="0.80" fill="#2a8746"/>
<rect x="223" y="190.19" width="1" height="10.02" fill="#c4c4c4"/>
<rect x="222" y="193.32" width="3" height="3.13" fill="#a2dca6"/>
<rect x="223" y="194.17" width="1" height="1.43" fill="#2a8746"/>
<rect x="227" y="189.57" width="1" height="7.51" fill="#c4c4c4"/>
<rect x="226" y="190.57" width="3" height="4.01" fill="#ffa0b6"/>
<rect x="227" y="191.42" width="1" height="2.31" fill="#d2265a"/>
<rect x="231" y="186.44" width="1" height="10.64" fill="#c4c4c4"/>
<rect x="230" y="187.31" width="3" height="7.89" fill="#a2dca6"/>
<rect x="231" y="188.16" width="1" height="6.19" fill="#2a8746"/>
<rect x="235" y="181.80" width="1" height="15.28" fill="#c4c4c4"/>
<rect x="234" y="182.30" width="3" height="5.38" fill="#a2dca6"/>
<rect x="235" y="183.15" width="1" height="3.68" fill="#2a8746"/>
<rect x="239" y="173.54" width="1" height="8.51" fill="#c4c4c4"/>
<rect x="238" y="174.29" width="3" height="5.26" fill="#a2dca6"/>
<rect x="239" y="175.14" width="1" height="3.56" fill="#2a8746"/>
<rect x="243" y="167.28" width="1" height="11.65" fill="#c4c4c4"/>
<rect x="242" y="169.28" width="3" height="6.26" fill="#a2dca6"/>
<rect x="243" y="170.13" width="1" height="4.56" fill="#2a8746"/>
<rect x="247" y="166.02" width="1" height="10.39" fill="#c4c4c4"/>
<rect x="246" y="170.16" width="3" height="1.63" fill="#e8c6ce"/>
<rect x="251" y="163.27" width="1" height="11.90" fill="#c4c4c4"/>
<rect x="250" y="167.28" width="3" height="6.64" fill="#ffa0b6"/>
<rect x="251" y="168.13" width="1" height="4.94" fill="#d2265a"/>
<rect x="255" y="172.66" width="1" height="12.52" fill="#c4c4c4"/>
<rect x="254" y="173.91" width="3" height="3.76" fill="#a2dca6"/>
<rect x="255" y="174.76" width="1" height="2.06" fill="#2a8746"/>
<rect x="259" y="169.53" width="1" height="13.77" fill="#c4c4c4"/>
<rect x="258" y="172.29" width="3" height="4.13" fill="#ffa0b6"/>
<rect x="259" y="173.14" width="1" height="2.43" fill="#d2265a"/>
<rect x="263" y="172.04" width="1" height="9.39" fill="#c4c4c4"/>
<rect x="262" y="173.91" width="3" height="1.63" fill="#c6d8c6"/>
<rect x="267" y="177.67" width="1" height="17.53" fill="#c4c4c4"/>
<rect x="266" y="178.30" width="3" height="16.28" fill="#ffa0b6"/>
<rect x="267" y="179.15" width="1" height="14.58" fill="#d2265a"/>
<rect x="271" y="200.21" width="1" height="17.53" fill="#c4c4c4"/>
<rect x="271" y="205.84" width="2" height="8.77" fill="#dba6b3"/>
<rect x="271" y="205.84" width="1" height="8.77" fill="#cfd3cf"/>
<rect x="275" y="208.35" width="1" height="20.29" fill="#c4c4c4"/>
<rect x="275" y="209.60" width="2" height="13.77" fill="#dba6b3"/>
<rect x="275" y="209.60" width="1" height="13.77" fill="#cfd3cf"/>
<rect x="279" y="217.74" width="1" height="6.89" fill="#c4c4c4"/>
<rect x="279" y="218.37" width="2" height="5.01" fill="#a9c6a9"/>
<rect x="279" y="218.37" width="1" height="5.01" fill="#cfd3cf"/>
<rect x="284" y="204.59" width="1" height="16.90" fill="#c4c4c4"/>
<rect x="283" y="205.84" width="2" height="15.03" fill="#a9c6a9"/>
<rect x="284" y="205.84" width="1" height="15.03" fill="#cfd3cf"/>
<rect x="288" y="192.70" width="1" height="12.52" fill="#c4c4c4"/>
<rect x="287" y="193.32" width="2" height="7.51" fill="#a9c6a9"/>
<rect x="288" y="193.32" width="1" height="7.51" fill="#cfd3cf"/>
<rect x="292" y="190.82" width="1" height="13.77" fill="#c4c4c4"/>
<rect x="291" y="192.07" width="2" height="7.51" fill="#a9c6a9"/>
<rect x="292" y="192.07" width="1" height="7.51" fill="#cfd3cf"/>
<rect x="296" y="185.81" width="1" height="5.63" fill="#c4c4c4"/>
<rect x="295" y="188.31" width="3" height="1.88" fill="#e8c6ce"/>
<rect x="300" y="187.69" width="1" height="13.15" fill="#c4c4c4"/>
<rect x="299" y="188.31" width="3" height="8.77" fill="#ffa0b6"/>
<rect x="300" y="189.16" width="1" height="7.07" fill="#d2265a"/>
<rect x="304" y="196.83" width="1" height="11.52" fill="#c4c4c4"/>
<rect x="303" y="197.33" width="3" height="9.14" fill="#ffa0b6"/>
<rect x="304" y="198.18" width="1" height="7.44" fill="#d2265a"/>
<rect x="308" y="193.57" width="1" height="13.52" fill="#c4c4c4"/>
<rect x="307" y="194.32" width="3" height="10.27" fill="#a2dca6"/>
<rect x="308" y="195.17" width="1" height="8.57" fill="#2a8746"/>
<rect x="312" y="175.17" width="1" height="15.65" fill="#c4c4c4"/>
<rect x="311" y="177.04" width="3" height="13.15" fill="#a2dca6"/>
<rect x="312" y="177.89" width="1" height="11.45" fill="#2a8746"/>
<rect x="316" y="170.78" width="1" height="11.27" fill="#c4c4c4"/>
<rect x="315" y="176.42" width="3" height="2.13" fill="#a2dca6"/>
<rect x="316" y="177.27" width="1" height="0.43" fill="#2a8746"/>
<rect x="320" y="167.65" width="1" height="9.39" fill="#c4c4c4"/>
<rect x="319" y="171.41" width="3" height="5.01" fill="#a2dca6"/>
<rect x="320" y="172.26" width="1" height="3.31" fill="#2a8746"/>
<rect x="324" y="165.15" width="1" height="10.64" fill="#c4c4c4"/>
<rect x="323" y="166.02" width="3" height="4.76" fill="#a2dca6"/>
<rect x="324" y="166.87" width="1" height="3.06" fill="#2a8746"/>
<rect x="328" y="155.51" width="1" height="14.02" fill="#c4c4c4"/>
<rect x="327" y="158.01" width="3" height="9.64" fill="#a2dca6"/>
<rect x="328" y="158.86" width="1" height="7.94" fill="#2a8746"/>
<rect x="332" y="151.37" width="1" height="21.29" fill="#c4c4c4"/>
<rect x="331" y="154.25" width="3" height="15.28" fill="#ffa0b6"/>
<rect x="332" y="155.10" width="1" height="13.58" fill="#d2265a"/>
<rect x="336" y="161.39" width="1" height="9.39" fill="#c4c4c4"/>
<rect x="335" y="163.90" width="3" height="1.63" fill="#c6d8c6"/>
<rect x="340" y="158.26" width="1" height="11.90" fill="#c4c4c4"/>
<rect x="339" y="165.52" width="3" height="4.01" fill="#ffa0b6"/>
<rect x="340" y="166.37" width="1" height="2.31" fill="#d2265a"/>
<rect x="344" y="163.27" width="1" height="10.02" fill="#c4c4c4"/>
<rect x="343" y="170.36" width="3" height="1.60" fill="#e8c6ce"/>
<rect x="348" y="160.14" width="1" height="11.90" fill="#c4c4c4"/>
<rect x="348" y="166.98" width="2" height="1.60" fill="#c6d8c6"/>
<rect x="352" y="165.58" width="1" height="11.27" fill="#c4c4c4"/>
<rect x="352" y="166.21" width="2" height="3.13" fill="#a9c6a9"/>
<rect x="352" y="166.21" width="1" height="3.13" fill="#cfd3cf"/>
<rect x="356" y="157.44" width="1" height="10.64" fill="#c4c4c4"/>
<rect x="356" y="163.03" width="2" height="1.60" fill="#c6d8c6"/>
<rect x="361" y="157.44" width="1" height="12.52" fill="#c4c4c4"/>
<rect x="360" y="163.08" width="2" height="6.01" fill="#dba6b3"/>
<rect x="361" y="163.08" width="1" height="6.01" fill="#cfd3cf"/>
<rect x="365" y="165.58" width="1" height="11.90" fill="#c4c4c4"/>
<rect x="364" y="166.04" width="2" height="1.60" fill="#e8c6ce"/>
<rect x="369" y="169.34" width="1" height="10.02" fill="#c4c4c4"/>
<rect x="368" y="169.97" width="2" height="3.13" fill="#dba6b3"/>
<rect x="369" y="169.97" width="1" height="3.13" fill="#cfd3cf"/>
<rect x="373" y="168.09" width="1" height="15.28" fill="#c4c4c4"/>
<rect x="372" y="176.30" width="3" height="1.60" fill="#e8c6ce"/>
<rect x="377" y="170.59" width="1" height="13.15" fill="#c4c4c4"/>
<rect x="376" y="171.59" width="3" height="4.01" fill="#a2dca6"/>
<rect x="377" y="172.44" width="1" height="2.31" fill="#2a8746"/>
<rect x="381" y="171.84" width="1" height="16.90" fill="#c4c4c4"/>
<rect x="380" y="172.47" width="3" height="15.65" fill="#ffa0b6"/>
<rect x="381" y="173.32" width="1" height="13.95" fill="#d2265a"/>
<rect x="385" y="174.35" width="1" height="11.27" fill="#c4c4c4"/>
<rect x="384" y="178.36" width="3" height="4.13" fill="#ffa0b6"/>
<rect x="385" y="179.21" width="1" height="2.43" fill="#d2265a"/>
<rect x="389" y="174.35" width="1" height="8.14" fill="#c4c4c4"/>
<rect x="388" y="177.49" width="3" height="1.60" fill="#c6d8c6"/>
<rect x="393" y="170.59" width="1" height="16.90" fill="#c4c4c4"/>
<rect x="392" y="175.85" width="3" height="2.88" fill="#ffa0b6"/>
<rect x="393" y="176.70" width="1" height="1.18" fill="#d2265a"/>
<rect x="397" y="174.35" width="1" height="11.27" fill="#c4c4c4"/>
<rect x="396" y="178.11" width="3" height="2.75" fill="#ffa0b6"/>
<rect x="397" y="178.96" width="1" height="1.05" fill="#d2265a"/>
<rect x="401" y="104.10" width="1" height="29.55" fill="#c4c4c4"/>
<rect x="400" y="125.46" width="3" height="1.60" fill="#e8c6ce"/>
<rect x="405" y="132.40" width="1" height="16.90" fill="#c4c4c4"/>
<rect x="404" y="135.53" width="3" height="13.15" fill="#ffa0b6"/>
<rect x="405" y="136.38" width="1" height="11.45" fill="#d2265a"/>
<rect x="409" y="144.30" width="1" height="18.16" fill="#c4c4c4"/>
<rect x="408" y="146.17" width="3" height="9.39" fill="#ffa0b6"/>
<rect x="409" y="147.02" width="1" height="7.69" fill="#d2265a"/>
<rect x="413" y="146.80" width="1" height="18.78" fill="#c4c4c4"/>
<rect x="412" y="150.31" width="3" height="14.27" fill="#ffa0b6"/>
<rect x="413" y="151.16" width="1" height="12.57" fill="#d2265a"/>
<rect x="417" y="158.32" width="1" height="11.02" fill="#c4c4c4"/>
<rect x="416" y="160.32" width="3" height="4.26" fill="#a2dca6"/>
<rect x="417" y="161.17" width="1" height="2.56" fill="#2a8746"/>
<rect x="421" y="147.43" width="1" height="17.16" fill="#c4c4c4"/>
<rect x="421" y="153.06" width="2" height="5.01" fill="#dba6b3"/>
<rect x="421" y="153.06" width="1" height="5.01" fill="#cfd3cf"/>
<rect x="425" y="158.07" width="1" height="15.65" fill="#c4c4c4"/>
<rect x="425" y="158.32" width="2" height="9.14" fill="#dba6b3"/>
<rect x="425" y="158.32" width="1" height="9.14" fill="#cfd3cf"/>
<rect x="429" y="166.21" width="1" height="9.64" fill="#c4c4c4"/>
<rect x="429" y="167.46" width="2" height="1.88" fill="#e8c6ce"/>
<rect x="433" y="160.57" width="1" height="18.78" fill="#c4c4c4"/>
<rect x="433" y="163.08" width="2" height="6.26" fill="#dba6b3"/>
<rect x="433" y="163.08" width="1" height="6.26" fill="#cfd3cf"/>
<rect x="438" y="163.70" width="1" height="9.39" fill="#c4c4c4"/>
<rect x="437" y="165.33" width="2" height="2.13" fill="#a9c6a9"/>
<rect x="438" y="165.33" width="1" height="2.13" fill="#cfd3cf"/>
<rect x="442" y="166.21" width="1" height="8.39" fill="#c4c4c4"/>
<rect x="441" y="167.46" width="2" height="5.63" fill="#dba6b3"/>
<rect x="442" y="167.46" width="1" height="5.63" fill="#cfd3cf"/>
<rect x="446" y="163.33" width="1" height="12.90" fill="#c4c4c4"/>
<rect x="445" y="164.96" width="3" height="5.63" fill="#a2dca6"/>
<rect x="446" y="165.81" width="1" height="3.93" fill="#2a8746"/>
<rect x="450" y="152.06" width="1" height="13.52" fill="#c4c4c4"/>
<rect x="449" y="156.19" width="3" height="8.77" fill="#a2dca6"/>
<rect x="450" y="157.04" width="1" height="7.07" fill="#2a8746"/>
<rect x="454" y="154.94" width="1" height="16.28" fill="#c4c4c4"/>
<rect x="453" y="156.19" width="3" height="14.15" fill="#ffa0b6"/>
<rect x="454" y="157.04" width="1" height="12.45" fill="#d2265a"/>
<rect x="458" y="173.72" width="1" height="21.91" fill="#c4c4c4"/>
<rect x="457" y="176.23" width="3" height="11.27" fill="#a2dca6"/>
<rect x="458" y="177.08" width="1" height="9.57" fill="#2a8746"/>
<rect x="462" y="173.72" width="1" height="10.02" fill="#c4c4c4"/>
<rect x="461" y="175.85" width="3" height="3.76" fill="#a2dca6"/>
<rect x="462" y="176.70" width="1" height="2.06" fill="#2a8746"/>
<rect x="466" y="152.44" width="1" height="24.42" fill="#c4c4c4"/>
<rect x="465" y="157.44" width="3" height="16.28" fill="#a2dca6"/>
<rect x="466" y="158.29" width="1" height="14.58" fill="#2a8746"/>
<rect x="470" y="147.43" width="1" height="14.40" fill="#c4c4c4"/>
<rect x="469" y="153.31" width="3" height="7.89" fill="#a2dca6"/>
<rect x="470" y="154.16" width="1" height="6.19" fill="#2a8746"/>
<rect x="474" y="143.04" width="1" height="15.03" fill="#c4c4c4"/>
<rect x="473" y="144.05" width="3" height="9.64" fill="#a2dca6"/>
<rect x="474" y="144.90" width="1" height="7.94" fill="#2a8746"/>
<rect x="478" y="142.44" width="1" height="7.51" fill="#c4c4c4"/>
<rect x="477" y="146.19" width="3" height="2.75" fill="#ffa0b6"/>
<rect x="478" y="147.04" width="1" height="1.05" fill="#d2265a"/>
<rect x="482" y="138.68" width="1" height="8.39" fill="#c4c4c4"/>
<rect x="481" y="139.30" width="3" height="6.89" fill="#a2dca6"/>
<rect x="482" y="140.15" width="1" height="5.19" fill="#2a8746"/>
<rect x="486" y="138.05" width="1" height="11.27" fill="#c4c4c4"/>
<rect x="485" y="139.30" width="3" height="5.26" fill="#ffa0b6"/>
<rect x="486" y="140.15" width="1" height="3.56" fill="#d2265a"/>
<rect x="490" y="146.19" width="1" height="15.65" fill="#c4c4c4"/>
<rect x="489" y="149.32" width="3" height="4.38" fill="#a2dca6"/>
<rect x="490" y="150.17" width="1" height="2.68" fill="#2a8746"/>
<rect x="494" y="144.56" width="1" height="11.65" fill="#c4c4c4"/>
<rect x="493" y="148.32" width="3" height="5.01" fill="#ffa0b6"/>
<rect x="494" y="149.17" width="1" height="3.31" fill="#d2265a"/>
<rect x="498" y="144.31" width="1" height="13.15" fill="#c4c4c4"/>
<rect x="498" y="145.57" width="2" height="6.26" fill="#a9c6a9"/>
<rect x="498" y="145.57" width="1" height="6.26" fill="#cfd3cf"/>
<rect x="502" y="139.30" width="1" height="20.04" fill="#c4c4c4"/>
<rect x="502" y="140.81" width="2" height="7.01" fill="#dba6b3"/>
<rect x="502" y="140.81" width="1" height="7.01" fill="#cfd3cf"/>
<rect x="506" y="138.05" width="1" height="13.77" fill="#c4c4c4"/>
<rect x="506" y="144.14" width="2" height="1.60" fill="#c6d8c6"/>
<rect x="510" y="140.56" width="1" height="7.51" fill="#c4c4c4"/>
<rect x="510" y="141.18" width="2" height="2.50" fill="#a9c6a9"/>
<rect x="510" y="141.18" width="1" height="2.50" fill="#cfd3cf"/>
<rect x="515" y="134.30" width="1" height="17.53" fill="#c4c4c4"/>
<rect x="514" y="139.30" width="2" height="11.90" fill="#dba6b3"/>
<rect x="515" y="139.30" width="1" height="11.90" fill="#cfd3cf"/>
<rect x="519" y="148.07" width="1" height="14.40" fill="#c4c4c4"/>
<rect x="518" y="148.32" width="2" height="12.27" fill="#dba6b3"/>
<rect x="519" y="148.32" width="1" height="12.27" fill="#cfd3cf"/>
<rect x="523" y="145.32" width="1" height="21.29" fill="#c4c4c4"/>
<rect x="522" y="153.70" width="3" height="6.89" fill="#a2dca6"/>
<rect x="523" y="154.55" width="1" height="5.19" fill="#2a8746"/>
<rect x="527" y="146.19" width="1" height="9.39" fill="#c4c4c4"/>
<rect x="526" y="150.32" width="3" height="2.13" fill="#a2dca6"/>
<rect x="527" y="151.17" width="1" height="0.43" fill="#2a8746"/>
<rect x="531" y="148.70" width="1" height="7.89" fill="#c4c4c4"/>
<rect x="530" y="150.40" width="3" height="1.60" fill="#e8c6ce"/>
<rect x="535" y="136.55" width="1" height="12.15" fill="#c4c4c4"/>
<rect x="534" y="137.80" width="3" height="10.02" fill="#a2dca6"/>
<rect x="535" y="138.65" width="1" height="8.32" fill="#2a8746"/>
<rect x="539" y="120.27" width="1" height="19.03" fill="#c4c4c4"/>
<rect x="538" y="134.30" width="3" height="4.38" fill="#ffa0b6"/>
<rect x="539" y="135.15" width="1" height="2.68" fill="#d2265a"/>
<rect x="543" y="124.03" width="1" height="12.15" fill="#c4c4c4"/>
<rect x="542" y="124.90" width="3" height="10.64" fill="#a2dca6"/>
<rect x="543" y="125.75" width="1" height="8.94" fill="#2a8746"/>
<rect x="547" y="124.28" width="1" height="8.77" fill="#c4c4c4"/>
<rect x="546" y="126.16" width="3" height="3.38" fill="#a2dca6"/>
<rect x="547" y="127.01" width="1" height="1.68" fill="#2a8746"/>
<rect x="551" y="122.40" width="1" height="16.90" fill="#c4c4c4"/>
<rect x="550" y="127.03" width="3" height="11.02" fill="#ffa0b6"/>
<rect x="551" y="127.88" width="1" height="9.32" fill="#d2265a"/>
<rect x="555" y="136.55" width="1" height="9.02" fill="#c4c4c4"/>
<rect x="554" y="137.05" width="3" height="4.76" fill="#ffa0b6"/>
<rect x="555" y="137.90" width="1" height="3.06" fill="#d2265a"/>
<rect x="559" y="138.30" width="1" height="22.29" fill="#c4c4c4"/>
<rect x="558" y="144.06" width="3" height="11.52" fill="#a2dca6"/>
<rect x="559" y="144.91" width="1" height="9.82" fill="#2a8746"/>
<rect x="563" y="144.31" width="1" height="11.90" fill="#c4c4c4"/>
<rect x="562" y="145.83" width="3" height="1.60" fill="#e8c6ce"/>
<rect x="567" y="122.02" width="1" height="22.29" fill="#c4c4c4"/>
<rect x="566" y="123.65" width="3" height="19.41" fill="#a2dca6"/>
<rect x="567" y="124.50" width="1" height="17.71" fill="#2a8746"/>
<rect x="571" y="121.77" width="1" height="18.78" fill="#c4c4c4"/>
<rect x="570" y="127.41" width="3" height="11.90" fill="#ffa0b6"/>
<rect x="571" y="128.26" width="1" height="10.20" fill="#d2265a"/>
<rect x="575" y="118.02" width="1" height="20.66" fill="#c4c4c4"/>
<rect x="575" y="120.52" width="2" height="8.14" fill="#a9c6a9"/>
<rect x="575" y="120.52" width="1" height="8.14" fill="#cfd3cf"/>
<rect x="579" y="116.14" width="1" height="14.40" fill="#c4c4c4"/>
<rect x="579" y="117.02" width="2" height="5.38" fill="#dba6b3"/>
<rect x="579" y="117.02" width="1" height="5.38" fill="#cfd3cf"/>
<rect x="583" y="119.90" width="1" height="21.91" fill="#c4c4c4"/>
<rect x="583" y="120.52" width="2" height="16.90" fill="#dba6b3"/>
<rect x="583" y="120.52" width="1" height="16.90" fill="#cfd3cf"/>
<rect x="587" y="136.17" width="1" height="11.90" fill="#c4c4c4"/>
<rect x="587" y="137.05" width="2" height="8.51" fill="#dba6b3"/>
<rect x="587" y="137.05" width="1" height="8.51" fill="#cfd3cf"/>
<rect x="592" y="138.68" width="1" height="13.77" fill="#c4c4c4"/>
<rect x="591" y="144.14" width="2" height="1.60" fill="#e8c6ce"/>
<rect x="596" y="143.06" width="1" height="11.90" fill="#c4c4c4"/>
<rect x="595" y="146.19" width="2" height="8.14" fill="#dba6b3"/>
<rect x="596" y="146.19" width="1" height="8.14" fill="#cfd3cf"/>
<rect x="600" y="151.01" width="1" height="15.65" fill="#c4c4c4"/>
<rect x="599" y="153.26" width="3" height="2.50" fill="#ffa0b6"/>
<rect x="600" y="154.11" width="1" height="0.80" fill="#d2265a"/>
<rect x="604" y="151.63" width="1" height="35.06" fill="#c4c4c4"/>
<rect x="603" y="155.02" width="3" height="31.05" fill="#ffa0b6"/>
<rect x="604" y="155.87" width="1" height="29.35" fill="#d2265a"/>
<rect x="608" y="172.30" width="1" height="15.03" fill="#c4c4c4"/>
<rect x="607" y="176.05" width="3" height="4.76" fill="#a2dca6"/>
<rect x="608" y="176.90" width="1" height="3.06" fill="#2a8746"/>
<rect x="612" y="165.41" width="1" height="25.04" fill="#c4c4c4"/>
<rect x="611" y="169.17" width="3" height="16.65" fill="#a2dca6"/>
<rect x="612" y="170.02" width="1" height="14.95" fill="#2a8746"/>
<rect x="616" y="152.26" width="1" height="14.40" fill="#c4c4c4"/>
<rect x="615" y="160.02" width="3" height="4.13" fill="#a2dca6"/>
<rect x="616" y="160.87" width="1" height="2.43" fill="#2a8746"/>
<rect x="620" y="151.63" width="1" height="20.04" fill="#c4c4c4"/>
<rect x="619" y="160.40" width="3" height="10.02" fill="#ffa0b6"/>
<rect x="620" y="161.25" width="1" height="8.32" fill="#d2265a"/>
<rect x="624" y="165.41" width="1" height="24.42" fill="#c4c4c4"/>
<rect x="623" y="168.29" width="3" height="12.15" fill="#ffa0b6"/>
<rect x="624" y="169.14" width="1" height="10.45" fill="#d2265a"/>
<rect x="628" y="173.55" width="1" height="16.28" fill="#c4c4c4"/>
<rect x="627" y="177.05" width="3" height="3.01" fill="#a2dca6"/>
<rect x="628" y="177.90" width="1" height="1.31" fill="#2a8746"/>
<rect x="632" y="157.27" width="1" height="17.53" fill="#c4c4c4"/>
<rect x="631" y="158.77" width="3" height="11.02" fill="#a2dca6"/>
<rect x="632" y="159.62" width="1" height="9.32" fill="#2a8746"/>
<rect x="636" y="164.78" width="1" height="39.07" fill="#c4c4c4"/>
<rect x="635" y="165.41" width="3" height="22.16" fill="#ffa0b6"/>
<rect x="636" y="166.26" width="1" height="20.46" fill="#d2265a"/>
<rect x="640" y="171.67" width="1" height="28.17" fill="#c4c4c4"/>
<rect x="639" y="172.30" width="3" height="26.30" fill="#a2dca6"/>
<rect x="640" y="173.15" width="1" height="24.60" fill="#2a8746"/>
<rect x="644" y="158.52" width="1" height="13.15" fill="#c4c4c4"/>
<rect x="643" y="164.16" width="3" height="6.26" fill="#a2dca6"/>
<rect x="644" y="165.01" width="1" height="4.56" fill="#2a8746"/>
<rect x="648" y="152.26" width="1" height="11.27" fill="#c4c4c4"/>
<rect x="647" y="157.90" width="3" height="1.63" fill="#e8c6ce"/>
<rect x="652" y="142.87" width="1" height="15.03" fill="#c4c4c4"/>
<rect x="652" y="146.00" width="2" height="8.14" fill="#dba6b3"/>
<rect x="652" y="146.00" width="1" height="8.14" fill="#cfd3cf"/>
<rect x="656" y="146.25" width="1" height="18.53" fill="#c4c4c4"/>
<rect x="656" y="154.77" width="2" height="6.26" fill="#dba6b3"/>
<rect x="656" y="154.77" width="1" height="6.26" fill="#cfd3cf"/>
<rect x="660" y="187.32" width="1" height="23.79" fill="#c4c4c4"/>
<rect x="660" y="201.10" width="2" height="7.51" fill="#dba6b3"/>
<rect x="660" y="201.10" width="1" height="7.51" fill="#cfd3cf"/>
<rect x="665" y="203.60" width="1" height="10.02" fill="#c4c4c4"/>
<rect x="664" y="204.85" width="2" height="2.50" fill="#dba6b3"/>
<rect x="665" y="204.85" width="1" height="2.50" fill="#cfd3cf"/>
<rect x="669" y="179.18" width="1" height="30.05" fill="#c4c4c4"/>
<rect x="668" y="182.31" width="2" height="23.79" fill="#a9c6a9"/>
<rect x="669" y="182.31" width="1" height="23.79" fill="#cfd3cf"/>
<rect x="673" y="187.95" width="1" height="16.28" fill="#c4c4c4"/>
<rect x="672" y="191.08" width="2" height="12.52" fill="#dba6b3"/>
<rect x="673" y="191.08" width="1" height="12.52" fill="#cfd3cf"/>
<rect x="677" y="186.07" width="1" height="20.66" fill="#c4c4c4"/>
<rect x="676" y="202.97" width="3" height="2.88" fill="#a2dca6"/>
<rect x="677" y="203.82" width="1" height="1.18" fill="#2a8746"/>
<rect x="681" y="203.60" width="1" height="20.66" fill="#c4c4c4"/>
<rect x="680" y="206.11" width="3" height="16.53" fill="#ffa0b6"/>
<rect x="681" y="206.96" width="1" height="14.83" fill="#d2265a"/>
<rect x="685" y="207.36" width="1" height="20.04" fill="#c4c4c4"/>
<rect x="684" y="209.24" width="3" height="16.90" fill="#a2dca6"/>
<rect x="685" y="210.09" width="1" height="15.20" fill="#2a8746"/>
<rect x="689" y="187.95" width="1" height="18.16" fill="#c4c4c4"/>
<rect x="688" y="191.33" width="3" height="14.15" fill="#a2dca6"/>
<rect x="689" y="192.18" width="1" height="12.45" fill="#2a8746"/>
<rect x="693" y="184.82" width="1" height="9.39" fill="#c4c4c4"/>
<rect x="692" y="187.15" width="3" height="1.60" fill="#c6d8c6"/>
<rect x="697" y="169.17" width="1" height="18.78" fill="#c4c4c4"/>
<rect x="696" y="184.57" width="3" height="2.13" fill="#ffa0b6"/>
<rect x="697" y="185.42" width="1" height="0.43" fill="#d2265a"/>
<rect x="701" y="187.32" width="1" height="8.77" fill="#c4c4c4"/>
<rect x="700" y="188.32" width="3" height="7.14" fill="#ffa0b6"/>
<rect x="701" y="189.17" width="1" height="5.44" fill="#d2265a"/>
<rect x="705" y="183.57" width="1" height="25.04" fill="#c4c4c4"/>
<rect x="704" y="195.46" width="3" height="8.14" fill="#a2dca6"/>
<rect x="705" y="196.31" width="1" height="6.44" fill="#2a8746"/>
<rect x="709" y="180.44" width="1" height="21.29" fill="#c4c4c4"/>
<rect x="708" y="190.08" width="3" height="7.51" fill="#a2dca6"/>
<rect x="709" y="190.93" width="1" height="5.81" fill="#2a8746"/>
<rect x="713" y="189.20" width="1" height="15.65" fill="#c4c4c4"/>
<rect x="712" y="194.21" width="3" height="2.50" fill="#ffa0b6"/>
<rect x="713" y="195.06" width="1" height="0.80" fill="#d2265a"/>
<rect x="717" y="182.31" width="1" height="11.27" fill="#c4c4c4"/>
<rect x="716" y="184.19" width="3" height="8.39" fill="#a2dca6"/>
<rect x="717" y="185.04" width="1" height="6.69" fill="#2a8746"/>
<rect x="721" y="174.59" width="1" height="30.05" fill="#c4c4c4"/>
<rect x="720" y="178.10" width="3" height="22.16" fill="#ffa0b6"/>
<rect x="721" y="178.95" width="1" height="20.46" fill="#d2265a"/>
<rect x="725" y="187.11" width="1" height="17.53" fill="#c4c4c4"/>
<rect x="724" y="195.25" width="3" height="8.14" fill="#ffa0b6"/>
<rect x="725" y="196.10" width="1" height="6.44" fill="#d2265a"/>
<rect x="729" y="178.35" width="1" height="15.65" fill="#c4c4c4"/>
<rect x="729" y="182.73" width="2" height="10.64" fill="#a9c6a9"/>
<rect x="729" y="182.73" width="1" height="10.64" fill="#cfd3cf"/>
<rect x="733" y="163.32" width="1" height="25.04" fill="#c4c4c4"/>
<rect x="733" y="164.57" width="2" height="18.78" fill="#a9c6a9"/>
<rect x="733" y="164.57" width="1" height="18.78" fill="#cfd3cf"/>
<rect x="737" y="151.43" width="1" height="13.77" fill="#c4c4c4"/>
<rect x="737" y="158.31" width="2" height="2.50" fill="#a9c6a9"/>
<rect x="737" y="158.31" width="1" height="2.50" fill="#cfd3cf"/>
<rect x="742" y="140.78" width="1" height="17.53" fill="#c4c4c4"/>
<rect x="741" y="141.41" width="2" height="11.90" fill="#a9c6a9"/>
<rect x="742" y="141.41" width="1" height="11.90" fill="#cfd3cf"/>
<rect x="746" y="133.65" width="1" height="12.79" fill="#c4c4c4"/>
<rect x="745" y="141.15" width="2" height="3.53" fill="#a9c6a9"/>
<rect x="746" y="141.15" width="1" height="3.53" fill="#cfd3cf"/>
<rect x="750" y="123.95" width="1" height="19.84" fill="#c4c4c4"/>
<rect x="749" y="134.09" width="2" height="3.53" fill="#a9c6a9"/>
<rect x="750" y="134.09" width="1" height="3.53" fill="#cfd3cf"/>
<rect x="754" y="116.01" width="1" height="20.28" fill="#c4c4c4"/>
<rect x="753" y="122.19" width="3" height="13.67" fill="#a2dca6"/>
<rect x="754" y="123.04" width="1" height="11.97" fill="#2a8746"/>
<rect x="758" y="117.34" width="1" height="13.23" fill="#c4c4c4"/>
<rect x="757" y="117.78" width="3" height="1.76" fill="#c6d8c6"/>
<rect x="762" y="109.40" width="1" height="13.67" fill="#c4c4c4"/>
<rect x="761" y="117.34" width="3" height="2.65" fill="#a2dca6"/>
<rect x="762" y="118.19" width="1" height="0.95" fill="#2a8746"/>
<rect x="766" y="63.67" width="1" height="27.94" fill="#c4c4c4"/>
<rect x="765" y="71.17" width="3" height="13.32" fill="#a2dca6"/>
<rect x="766" y="72.02" width="1" height="11.62" fill="#2a8746"/>
<rect x="770" y="61.55" width="1" height="18.78" fill="#c4c4c4"/>
<rect x="769" y="63.05" width="3" height="15.40" fill="#a2dca6"/>
<rect x="770" y="63.90" width="1" height="13.70" fill="#2a8746"/>
<rect x="774" y="46.27" width="1" height="21.29" fill="#c4c4c4"/>
<rect x="773" y="53.03" width="3" height="13.77" fill="#a2dca6"/>
<rect x="774" y="53.88" width="1" height="12.07" fill="#2a8746"/>
<rect x="778" y="46.27" width="1" height="12.15" fill="#c4c4c4"/>
<rect x="777" y="48.02" width="3" height="2.88" fill="#a2dca6"/>
<rect x="778" y="48.87" width="1" height="1.18" fill="#2a8746"/>
<rect x="782" y="36.50" width="1" height="28.80" fill="#c4c4c4"/>
<rect x="781" y="49.28" width="3" height="15.03" fill="#ffa0b6"/>
<rect x="782" y="50.13" width="1" height="13.33" fill="#d2265a"/>
<rect x="786" y="53.41" width="1" height="18.78" fill="#c4c4c4"/>
<rect x="785" y="57.17" width="3" height="14.40" fill="#ffa0b6"/>
<rect x="786" y="58.02" width="1" height="12.70" fill="#d2265a"/>
<rect x="790" y="56.54" width="1" height="16.28" fill="#c4c4c4"/>
<rect x="789" y="65.30" width="3" height="6.26" fill="#a2dca6"/>
<rect x="790" y="66.15" width="1" height="4.56" fill="#2a8746"/>
<rect x="794" y="56.54" width="1" height="17.53" fill="#c4c4c4"/>
<rect x="793" y="62.17" width="3" height="11.27" fill="#ffa0b6"/>
<rect x="794" y="63.02" width="1" height="9.57" fill="#d2265a"/>
<rect x="798" y="52.16" width="1" height="19.41" fill="#c4c4c4"/>
<rect x="797" y="54.04" width="3" height="15.65" fill="#a2dca6"/>
<rect x="798" y="54.89" width="1" height="13.95" fill="#2a8746"/>
<rect x="802" y="46.27" width="1" height="24.04" fill="#c4c4c4"/>
<rect x="801" y="55.29" width="3" height="14.40" fill="#ffa0b6"/>
<rect x="802" y="56.14" width="1" height="12.70" fill="#d2265a"/>
<rect x="806" y="62.80" width="1" height="26.30" fill="#c4c4c4"/>
<rect x="806" y="67.18" width="2" height="18.78" fill="#dba6b3"/>
<rect x="806" y="67.18" width="1" height="18.78" fill="#cfd3cf"/>
<rect x="810" y="81.58" width="1" height="10.64" fill="#c4c4c4"/>
<rect x="810" y="82.21" width="2" height="3.13" fill="#a9c6a9"/>
<rect x="810" y="82.21" width="1" height="3.13" fill="#cfd3cf"/>
<rect x="814" y="76.57" width="1" height="6.89" fill="#c4c4c4"/>
<rect x="814" y="77.20" width="2" height="5.01" fill="#a9c6a9"/>
<rect x="814" y="77.20" width="1" height="5.01" fill="#cfd3cf"/>
<rect x="819" y="73.44" width="1" height="10.02" fill="#c4c4c4"/>
<rect x="818" y="77.20" width="2" height="3.76" fill="#dba6b3"/>
<rect x="819" y="77.20" width="1" height="3.76" fill="#cfd3cf"/>
<rect x="823" y="78.45" width="1" height="10.64" fill="#c4c4c4"/>
<rect x="822" y="83.46" width="2" height="1.88" fill="#e8c6ce"/>
<rect x="827" y="83.46" width="1" height="6.89" fill="#c4c4c4"/>
<rect x="826" y="84.09" width="2" height="5.63" fill="#dba6b3"/>
<rect x="827" y="84.09" width="1" height="5.63" fill="#cfd3cf"/>
<rect x="831" y="88.85" width="1" height="8.39" fill="#c4c4c4"/>
<rect x="830" y="89.35" width="3" height="7.26" fill="#ffa0b6"/>
<rect x="831" y="90.20" width="1" height="5.56" fill="#d2265a"/>
<rect x="835" y="95.98" width="1" height="30.43" fill="#c4c4c4"/>
<rect x="834" y="96.36" width="3" height="20.91" fill="#ffa0b6"/>
<rect x="835" y="97.21" width="1" height="19.21" fill="#d2265a"/>
<rect x="839" y="84.71" width="1" height="33.81" fill="#c4c4c4"/>
<rect x="838" y="88.09" width="3" height="27.30" fill="#a2dca6"/>
<rect x="839" y="88.94" width="1" height="25.60" fill="#2a8746"/>
<rect x="843" y="76.82" width="1" height="9.77" fill="#c4c4c4"/>
<rect x="842" y="79.08" width="3" height="6.51" fill="#a2dca6"/>
<rect x="843" y="79.93" width="1" height="4.81" fill="#2a8746"/>
<rect x="847" y="65.30" width="1" height="16.28" fill="#c4c4c4"/>
<rect x="846" y="69.31" width="3" height="8.26" fill="#a2dca6"/>
<rect x="847" y="70.16" width="1" height="6.56" fill="#2a8746"/>
<rect x="851" y="62.80" width="1" height="23.79" fill="#c4c4c4"/>
<rect x="850" y="70.06" width="3" height="7.76" fill="#ffa0b6"/>
<rect x="851" y="70.91" width="1" height="6.06" fill="#d2265a"/>
<rect x="855" y="54.66" width="1" height="17.53" fill="#c4c4c4"/>
<rect x="854" y="57.17" width="3" height="14.40" fill="#a2dca6"/>
<rect x="855" y="58.02" width="1" height="12.70" fill="#2a8746"/>
<rect x="859" y="49.28" width="1" height="14.78" fill="#c4c4c4"/>
<rect x="858" y="56.29" width="3" height="6.76" fill="#a2dca6"/>
<rect x="859" y="57.14" width="1" height="5.06" fill="#2a8746"/>
<rect x="863" y="49.03" width="1" height="15.03" fill="#c4c4c4"/>
<rect x="862" y="49.28" width="3" height="3.51" fill="#ffa0b6"/>
<rect x="863" y="50.13" width="1" height="1.81" fill="#d2265a"/>
<rect x="867" y="46.27" width="1" height="23.42" fill="#c4c4c4"/>
<rect x="866" y="53.03" width="3" height="8.77" fill="#ffa0b6"/>
<rect x="867" y="53.88" width="1" height="7.07" fill="#d2265a"/>
<rect x="871" y="48.40" width="1" height="12.52" fill="#c4c4c4"/>
<rect x="870" y="57.17" width="3" height="2.88" fill="#ffa0b6"/>
<rect x="871" y="58.02" width="1" height="1.18" fill="#d2265a"/>
<rect x="875" y="56.54" width="1" height="20.66" fill="#c4c4c4"/>
<rect x="874" y="60.30" width="3" height="16.28" fill="#ffa0b6"/>
<rect x="875" y="61.15" width="1" height="14.58" fill="#d2265a"/>
<rect x="879" y="69.69" width="1" height="19.41" fill="#c4c4c4"/>
<rect x="878" y="77.20" width="3" height="8.39" fill="#a2dca6"/>
<rect x="879" y="78.05" width="1" height="6.69" fill="#2a8746"/>
<rect x="883" y="62.44" width="1" height="15.03" fill="#c4c4c4"/>
<rect x="883" y="64.94" width="2" height="11.90" fill="#a9c6a9"/>
<rect x="883" y="64.94" width="1" height="11.90" fill="#cfd3cf"/>
<rect x="887" y="41.77" width="1" height="20.29" fill="#c4c4c4"/>
<rect x="887" y="42.40" width="2" height="18.78" fill="#a9c6a9"/>
<rect x="887" y="42.40" width="1" height="18.78" fill="#cfd3cf"/>
<rect x="891" y="33.63" width="1" height="24.42" fill="#c4c4c4"/>
<rect x="891" y="43.03" width="2" height="5.01" fill="#dba6b3"/>
<rect x="891" y="43.03" width="1" height="5.01" fill="#cfd3cf"/>
<rect x="896" y="38.64" width="1" height="13.15" fill="#c4c4c4"/>
<rect x="895" y="46.16" width="2" height="1.88" fill="#e8c6ce"/>
<rect x="900" y="36.14" width="1" height="21.91" fill="#c4c4c4"/>
<rect x="899" y="42.85" width="2" height="1.60" fill="#c6d8c6"/>
<rect x="904" y="43.03" width="1" height="98.30" fill="#c4c4c4"/>
<rect x="903" y="47.41" width="2" height="60.73" fill="#dba6b3"/>
<rect x="904" y="47.41" width="1" height="60.73" fill="#cfd3cf"/>
<rect x="908" y="74.40" width="1" height="31.30" fill="#c4c4c4"/>
<rect x="907" y="86.92" width="3" height="5.01" fill="#ffa0b6"/>
<rect x="908" y="87.77" width="1" height="3.31" fill="#d2265a"/>
<rect x="912" y="91.30" width="1" height="28.80" fill="#c4c4c4"/>
<rect x="911" y="92.81" width="3" height="23.54" fill="#ffa0b6"/>
<rect x="912" y="93.66" width="1" height="21.84" fill="#d2265a"/>
<rect x="916" y="100.00" width="1" height="25.67" fill="#c4c4c4"/>
<rect x="915" y="110.64" width="3" height="14.40" fill="#a2dca6"/>
<rect x="916" y="111.49" width="1" height="12.70" fill="#2a8746"/>
<rect x="920" y="102.50" width="1" height="24.42" fill="#c4c4c4"/>
<rect x="919" y="107.26" width="3" height="4.26" fill="#a2dca6"/>
<rect x="920" y="108.11" width="1" height="2.56" fill="#2a8746"/>
<rect x="924" y="110.64" width="1" height="38.82" fill="#c4c4c4"/>
<rect x="923" y="111.27" width="3" height="13.15" fill="#ffa0b6"/>
<rect x="924" y="112.12" width="1" height="11.45" fill="#d2265a"/>
<rect x="928" y="125.67" width="1" height="29.43" fill="#c4c4c4"/>
<rect x="927" y="131.30" width="3" height="2.50" fill="#ffa0b6"/>
<rect x="928" y="132.15" width="1" height="0.80" fill="#d2265a"/>
<rect x="932" y="105.63" width="1" height="20.66" fill="#c4c4c4"/>
<rect x="931" y="114.40" width="3" height="11.27" fill="#a2dca6"/>
<rect x="932" y="115.25" width="1" height="9.57" fill="#2a8746"/>
<rect x="936" y="104.38" width="1" height="20.04" fill="#c4c4c4"/>
<rect x="935" y="106.26" width="3" height="10.64" fill="#a2dca6"/>
<rect x="936" y="107.11" width="1" height="8.94" fill="#2a8746"/>
<rect x="940" y="100.00" width="1" height="26.05" fill="#c4c4c4"/>
<rect x="939" y="106.26" width="3" height="19.41" fill="#ffa0b6"/>
<rect x="940" y="107.11" width="1" height="17.71" fill="#d2265a"/>
<rect x="944" y="121.91" width="1" height="30.05" fill="#c4c4c4"/>
<rect x="943" y="123.17" width="3" height="28.17" fill="#ffa0b6"/>
<rect x="944" y="124.02" width="1" height="26.47" fill="#d2265a"/>
<rect x="948" y="145.70" width="1" height="39.57" fill="#c4c4c4"/>
<rect x="947" y="150.00" width="3" height="20.72" fill="#ffa0b6"/>
<rect x="948" y="150.85" width="1" height="19.02" fill="#d2265a"/>
<rect x="952" y="164.33" width="1" height="14.88" fill="#c4c4c4"/>
<rect x="951" y="170.06" width="3" height="2.54" fill="#ffa0b6"/>
<rect x="952" y="170.91" width="1" height="0.84" fill="#d2265a"/>
<rect x="956" y="163.23" width="1" height="16.53" fill="#c4c4c4"/>
<rect x="955" y="164.11" width="3" height="13.45" fill="#a2dca6"/>
<rect x="956" y="164.96" width="1" height="11.75" fill="#2a8746"/>
<rect x="960" y="149.45" width="1" height="26.46" fill="#c4c4c4"/>
<rect x="960" y="152.20" width="2" height="23.37" fill="#a9c6a9"/>
<rect x="960" y="152.20" width="1" height="23.37" fill="#cfd3cf"/>
<rect x="964" y="161.57" width="1" height="36.93" fill="#c4c4c4"/>
<rect x="964" y="172.05" width="2" height="9.37" fill="#dba6b3"/>
<rect x="964" y="172.05" width="1" height="9.37" fill="#cfd3cf"/>
<rect x="968" y="170.39" width="1" height="25.90" fill="#c4c4c4"/>
<rect x="968" y="177.01" width="2" height="7.72" fill="#a9c6a9"/>
<rect x="968" y="177.01" width="1" height="7.72" fill="#cfd3cf"/>
<rect x="973" y="176.46" width="1" height="23.70" fill="#c4c4c4"/>
<rect x="972" y="179.76" width="2" height="8.82" fill="#dba6b3"/>
<rect x="973" y="179.76" width="1" height="8.82" fill="#cfd3cf"/>
<rect x="977" y="176.46" width="1" height="14.33" fill="#c4c4c4"/>
<rect x="976" y="187.78" width="2" height="1.60" fill="#e8c6ce"/>
<rect x="981" y="178.11" width="1" height="14.33" fill="#c4c4c4"/>
<rect x="980" y="179.21" width="2" height="8.27" fill="#a9c6a9"/>
<rect x="981" y="179.21" width="1" height="8.27" fill="#cfd3cf"/>
<rect x="985" y="160.14" width="1" height="20.17" fill="#c4c4c4"/>
<rect x="984" y="161.24" width="3" height="18.30" fill="#a2dca6"/>
<rect x="985" y="162.09" width="1" height="16.60" fill="#2a8746"/>
<rect x="989" y="166.53" width="1" height="27.01" fill="#c4c4c4"/>
<rect x="988" y="171.16" width="3" height="9.48" fill="#ffa0b6"/>
<rect x="989" y="172.01" width="1" height="7.78" fill="#d2265a"/>
<rect x="993" y="185.82" width="1" height="10.47" fill="#c4c4c4"/>
<rect x="992" y="190.23" width="3" height="1.65" fill="#c6d8c6"/>
<rect x="997" y="190.23" width="1" height="23.48" fill="#c4c4c4"/>
<rect x="996" y="194.09" width="3" height="3.53" fill="#a2dca6"/>
<rect x="997" y="194.94" width="1" height="1.83" fill="#2a8746"/>
<rect x="1001" y="183.62" width="1" height="14.88" fill="#c4c4c4"/>
<rect x="1000" y="191.34" width="3" height="6.61" fill="#ffa0b6"/>
<rect x="1001" y="192.19" width="1" height="4.91" fill="#d2265a"/>
<rect x="1005" y="182.52" width="1" height="17.09" fill="#c4c4c4"/>
<rect x="1004" y="183.07" width="3" height="15.98" fill="#a2dca6"/>
<rect x="1005" y="183.92" width="1" height="14.28" fill="#2a8746"/>
<rect x="1009" y="190.78" width="1" height="9.92" fill="#c4c4c4"/>
<rect x="1008" y="192.11" width="3" height="4.74" fill="#ffa0b6"/>
<rect x="1009" y="192.96" width="1" height="3.04" fill="#d2265a"/>
<rect x="1013" y="184.72" width="1" height="25.90" fill="#c4c4c4"/>
<rect x="1012" y="185.27" width="3" height="15.21" fill="#a2dca6"/>
<rect x="1013" y="186.12" width="1" height="13.51" fill="#2a8746"/>
<rect x="1017" y="181.97" width="1" height="19.84" fill="#c4c4c4"/>
<rect x="1016" y="187.26" width="3" height="7.39" fill="#ffa0b6"/>
<rect x="1017" y="188.11" width="1" height="5.69" fill="#d2265a"/>
<rect x="1021" y="184.17" width="1" height="20.39" fill="#c4c4c4"/>
<rect x="1020" y="193.21" width="3" height="10.58" fill="#ffa0b6"/>
<rect x="1021" y="194.06" width="1" height="8.88" fill="#d2265a"/>
<rect x="1025" y="206.44" width="1" height="14.11" fill="#c4c4c4"/>
<rect x="1024" y="208.20" width="3" height="11.46" fill="#ffa0b6"/>
<rect x="1025" y="209.05" width="1" height="9.76" fill="#d2265a"/>
<rect x="1029" y="209.52" width="1" height="13.78" fill="#c4c4c4"/>
<rect x="1028" y="212.83" width="3" height="1.65" fill="#e8c6ce"/>
</g>
<g clip-path="url(#cp)">
<path d="M12.6,321.6 C15.7,321.2 24.6,320.0 31.2,319.2 C37.8,318.4 45.2,317.3 52.3,316.6 C59.3,315.9 66.4,315.7 73.5,315.0 C80.6,314.3 87.7,313.1 94.7,312.4 C101.8,311.6 109.9,311.1 115.8,310.5 C121.7,309.9 124.1,309.9 130.0,309.0 C135.9,308.1 140.6,307.1 151.2,305.2 C161.8,303.2 179.4,299.9 193.5,297.3 C207.6,294.7 221.7,292.3 235.8,289.7 C249.9,287.1 264.7,284.2 278.1,281.5 C291.5,278.8 300.9,276.9 316.2,273.6 C331.5,270.4 355.1,265.1 370.0,262.0 C384.9,258.9 393.1,257.0 405.4,254.7 C417.7,252.4 429.9,250.3 444.0,248.0 C458.1,245.7 475.3,243.2 490.0,241.0 C504.7,238.8 518.1,236.7 532.3,234.7 C546.5,232.7 562.2,230.7 575.2,228.9 C588.2,227.1 598.9,225.6 610.0,223.8 C621.1,222.1 632.5,219.9 641.7,218.4 C650.9,216.9 656.2,215.9 665.0,214.8 C673.8,213.7 683.9,212.9 694.7,212.0 C705.5,211.1 719.0,210.2 730.0,209.1 C741.0,208.0 752.1,206.8 760.4,205.4 C768.7,204.0 775.1,201.8 780.0,200.5 C784.9,199.2 786.7,198.5 790.0,197.5 C793.3,196.5 795.8,195.7 800.0,194.4 C804.2,193.1 809.1,191.6 815.0,189.8 C820.9,188.0 829.7,185.3 835.5,183.6 C841.3,181.8 843.4,181.3 850.0,179.3 C856.6,177.3 867.5,174.0 875.0,171.8 C882.5,169.6 887.5,168.4 895.0,166.3 C902.5,164.2 911.5,161.4 919.7,159.5 C927.9,157.6 936.2,155.9 944.4,154.6 C952.6,153.3 960.8,152.3 969.0,151.5 C977.2,150.7 985.5,150.3 993.8,150.0 C1002.0,149.7 1012.4,149.7 1018.5,149.6 C1024.6,149.5 1028.3,149.5 1030.3,149.5" fill="none" stroke="#4ecdc4" stroke-width="1.15" stroke-opacity="1.0" stroke-linejoin="round" stroke-linecap="butt"/>
<path d="M12.6,282.5 C14.8,282.7 21.9,283.3 25.9,283.5 C29.9,283.7 33.3,283.9 36.5,283.8 C39.7,283.7 41.4,283.1 44.9,282.9 C48.4,282.7 53.5,282.6 57.6,282.7 C61.7,282.8 66.0,283.0 69.3,283.5 C72.6,284.0 74.9,285.1 77.7,285.9 C80.5,286.7 83.4,287.8 86.2,288.5 C89.0,289.2 91.5,289.3 94.7,289.9 C97.9,290.5 101.7,291.4 105.2,292.2 C108.7,293.0 111.7,293.9 115.8,294.9 C119.9,295.8 126.3,297.1 130.0,297.9 C133.7,298.7 135.5,299.0 138.2,299.5 C140.9,300.0 144.3,300.5 146.3,300.8 C148.3,301.1 148.0,301.3 150.3,301.2 C152.6,301.1 157.0,300.8 160.3,300.3 C163.6,299.8 167.0,299.1 170.3,298.3 C173.6,297.6 177.0,296.9 180.3,295.8 C183.6,294.7 187.0,293.1 190.3,291.5 C193.7,289.9 197.1,288.4 200.4,286.5 C203.8,284.6 207.1,282.4 210.4,280.2 C213.7,278.0 217.1,275.6 220.4,273.2 C223.7,270.8 227.1,268.1 230.4,265.7 C233.7,263.3 237.1,261.2 240.4,259.0 C243.7,256.8 247.1,254.3 250.4,252.2 C253.8,250.1 257.2,247.9 260.5,246.4 C263.8,244.9 266.8,244.8 270.0,243.3 C273.2,241.9 276.7,239.7 280.0,237.7 C283.3,235.7 286.7,233.6 290.0,231.5 C293.3,229.4 296.7,227.2 300.0,225.2 C303.3,223.2 306.7,221.6 310.0,219.7 C313.3,217.8 316.7,215.9 320.0,214.0 C323.3,212.1 326.7,210.0 330.0,208.2 C333.3,206.3 336.7,204.5 340.0,202.9 C343.3,201.3 346.7,199.8 350.0,198.5 C353.3,197.2 356.2,196.3 360.0,195.0 C363.8,193.7 368.4,191.8 372.6,190.4 C376.8,189.0 380.8,187.6 385.0,186.5 C389.2,185.4 393.4,184.7 397.6,183.6 C401.8,182.5 405.8,181.1 410.0,180.0 C414.2,178.9 418.4,177.7 422.6,176.9 C426.8,176.1 430.8,175.7 435.0,175.4 C439.2,175.1 443.5,175.4 447.7,175.3 C451.9,175.2 456.7,175.2 460.0,174.8 C463.3,174.4 464.9,173.7 467.7,173.0 C470.5,172.3 473.3,171.5 477.0,170.6 C480.7,169.7 486.8,168.2 490.0,167.3 C493.2,166.4 493.4,165.9 496.5,165.2 C499.6,164.5 504.8,163.5 508.9,162.9 C513.0,162.3 517.1,162.0 521.2,161.6 C525.3,161.2 529.1,161.1 533.6,160.5 C538.1,159.9 544.4,158.6 548.0,157.9 C551.6,157.2 551.3,157.1 555.0,156.4 C558.7,155.7 565.0,154.8 570.0,153.9 C575.0,153.0 580.0,151.7 585.0,151.0 C590.0,150.3 595.0,149.9 600.0,150.0 C605.0,150.1 610.0,151.1 615.0,151.4 C620.0,151.7 625.0,151.8 630.0,151.9 C635.0,152.0 640.4,151.9 645.0,151.9 C649.6,151.9 653.5,151.8 657.7,152.1 C661.9,152.4 665.5,153.0 670.0,153.9 C674.5,154.8 680.0,156.4 685.0,157.7 C690.0,158.9 695.0,160.2 700.0,161.4 C705.0,162.7 710.0,164.0 715.0,165.2 C720.0,166.4 725.6,167.9 730.0,168.6 C734.4,169.3 737.7,169.3 741.6,169.5 C745.5,169.7 749.7,169.7 753.2,169.5 C756.8,169.3 760.3,168.8 762.9,168.2 C765.5,167.6 765.7,166.9 768.6,165.7 C771.5,164.5 776.3,162.4 780.2,160.8 C784.1,159.2 787.9,157.6 791.8,156.0 C795.7,154.4 799.5,152.8 803.4,151.2 C807.3,149.6 811.1,147.9 815.0,146.3 C818.9,144.7 823.4,142.7 826.6,141.5 C829.8,140.3 831.7,140.2 834.3,139.2 C836.9,138.2 839.4,136.9 842.0,135.7 C844.6,134.5 847.0,133.2 850.0,131.8 C853.0,130.4 856.7,129.1 860.0,127.2 C863.3,125.3 866.7,122.9 870.0,120.7 C873.3,118.5 876.7,116.5 880.0,113.9 C883.3,111.3 886.7,107.6 890.0,105.1 C893.3,102.6 896.7,100.8 900.0,98.9 C903.3,97.0 906.7,95.5 910.0,93.9 C913.3,92.4 916.7,90.9 920.0,89.6 C923.3,88.3 926.7,87.1 930.0,86.3 C933.3,85.5 936.7,84.8 940.0,84.6 C943.3,84.4 946.7,84.5 950.0,85.1 C953.3,85.7 956.7,86.6 960.0,88.1 C963.3,89.6 966.7,92.0 970.0,93.9 C973.3,95.8 976.7,97.8 980.0,99.6 C983.3,101.4 986.7,102.8 990.0,104.6 C993.3,106.4 996.7,108.6 1000.0,110.6 C1003.3,112.6 1006.7,114.5 1010.0,116.4 C1013.3,118.3 1016.6,120.3 1020.0,122.2 C1023.4,124.1 1028.6,127.0 1030.3,127.9" fill="none" stroke="#ff6b6b" stroke-width="1.15" stroke-opacity="1.0" stroke-linejoin="round" stroke-linecap="butt"/>
<path d="M12.6,288.0 C13.6,288.8 16.6,290.9 18.5,292.8 C20.4,294.7 22.1,297.4 23.8,299.6 C25.6,301.8 27.4,304.4 29.0,306.0 C30.6,307.6 31.9,308.6 33.3,309.4 C34.7,310.2 35.6,310.3 37.5,310.7 C39.4,311.1 42.4,311.1 44.9,311.5 C47.4,311.9 50.0,312.8 52.3,313.4 C54.6,314.0 56.6,314.7 58.7,315.0 C60.8,315.3 62.5,315.1 65.0,315.2 C67.5,315.3 70.7,315.5 73.5,315.7 C76.3,315.9 79.9,316.2 82.0,316.2 C84.1,316.2 84.8,316.0 86.2,315.6 C87.6,315.2 88.5,314.6 90.4,313.9 C92.3,313.2 95.3,312.4 97.8,311.3 C100.3,310.2 102.9,308.6 105.2,307.6 C107.5,306.6 109.1,305.9 111.6,305.5 C114.1,305.1 116.9,305.3 120.0,304.9 C123.1,304.5 126.7,304.2 130.0,303.2 C133.3,302.2 136.7,300.3 140.0,299.0 C143.3,297.7 146.7,297.6 150.0,295.5 C153.3,293.4 156.7,289.7 160.0,286.5 C163.3,283.3 166.7,279.6 170.0,276.5 C173.3,273.4 176.7,271.1 180.0,267.7 C183.3,264.3 186.7,260.1 190.0,256.4 C193.3,252.6 196.7,248.5 200.0,245.2 C203.3,241.9 206.7,239.8 210.0,236.4 C213.3,233.0 216.7,228.5 220.0,225.0 C223.3,221.5 226.7,218.7 230.0,215.6 C233.3,212.5 236.7,209.1 240.0,206.3 C243.3,203.5 246.7,201.0 250.0,198.8 C253.3,196.6 257.2,194.1 260.0,193.0 C262.8,191.9 264.1,192.0 266.7,192.0 C269.3,192.0 272.6,192.9 275.5,193.0 C278.4,193.1 281.6,192.8 284.0,192.6 C286.4,192.4 287.3,192.2 290.0,191.7 C292.7,191.2 296.7,190.0 300.0,189.7 C303.3,189.4 306.7,189.8 310.0,189.7 C313.3,189.6 316.7,189.2 320.0,188.9 C323.3,188.7 326.7,188.5 330.0,188.2 C333.3,187.9 337.1,187.6 340.0,187.2 C342.9,186.8 345.1,186.9 347.6,185.9 C350.1,184.9 352.1,183.0 355.0,181.4 C357.9,179.8 361.7,177.7 365.0,176.4 C368.3,175.1 371.7,174.4 375.0,173.7 C378.3,172.9 381.7,172.4 385.0,171.9 C388.3,171.4 392.2,171.3 395.0,170.6 C397.8,169.9 399.5,168.4 402.0,167.8 C404.5,167.2 407.0,167.1 410.0,167.0 C413.0,166.9 416.7,167.1 420.0,167.0 C423.3,166.9 425.8,166.6 430.0,166.5 C434.2,166.4 440.0,166.7 445.0,166.5 C450.0,166.3 455.8,166.2 460.0,165.4 C464.2,164.6 467.0,162.5 470.0,161.6 C473.0,160.7 474.6,160.4 478.0,160.2 C481.4,160.0 486.2,160.5 490.3,160.2 C494.4,159.9 499.6,159.0 502.7,158.3 C505.8,157.6 506.3,156.7 508.9,156.1 C511.4,155.5 515.4,155.1 518.0,154.6 C520.6,154.1 521.7,153.4 524.3,152.8 C526.9,152.2 531.0,151.7 533.6,150.9 C536.2,150.1 537.3,149.0 539.7,147.9 C542.1,146.8 545.5,145.3 548.0,144.6 C550.5,143.9 552.2,144.2 555.0,143.9 C557.8,143.7 561.7,143.7 565.0,143.1 C568.3,142.5 572.1,141.3 575.0,140.6 C577.9,139.9 580.1,139.1 582.6,138.9 C585.1,138.7 587.1,139.3 590.0,139.4 C592.9,139.5 596.7,139.1 600.0,139.6 C603.3,140.1 606.7,141.5 610.0,142.6 C613.3,143.7 616.7,144.5 620.0,146.0 C623.3,147.5 626.7,149.9 630.0,151.5 C633.3,153.1 636.7,154.6 640.0,155.8 C643.3,157.0 647.2,157.5 650.0,158.7 C652.8,159.8 654.8,161.5 656.5,162.7 C658.2,163.9 657.8,164.4 660.0,166.0 C662.2,167.6 666.7,170.0 670.0,172.2 C673.3,174.3 676.7,177.2 680.0,178.9 C683.3,180.6 686.7,181.3 690.0,182.2 C693.3,183.1 696.7,183.7 700.0,184.5 C703.3,185.3 706.7,186.1 710.0,187.0 C713.3,187.9 716.7,188.8 720.0,189.7 C723.3,190.6 727.2,192.1 730.0,192.7 C732.8,193.3 734.5,193.8 736.8,193.1 C739.0,192.4 741.4,190.2 743.5,188.8 C745.6,187.4 747.4,186.0 749.3,184.4 C751.2,182.8 753.2,181.2 755.1,179.2 C757.0,177.2 759.3,174.5 760.9,172.4 C762.5,170.3 763.5,168.6 764.8,166.6 C766.1,164.6 767.0,163.1 768.6,160.4 C770.2,157.7 772.5,153.5 774.4,150.2 C776.3,146.9 778.3,143.7 780.2,140.5 C782.1,137.3 784.1,134.1 786.0,130.9 C787.9,127.7 789.9,124.4 791.8,121.2 C793.7,118.0 795.7,114.6 797.6,111.5 C799.5,108.4 801.5,105.5 803.4,102.8 C805.3,100.1 807.3,97.8 809.2,95.5 C811.1,93.2 813.1,91.1 815.0,89.3 C816.9,87.5 818.9,85.8 820.8,84.5 C822.7,83.2 824.4,82.2 826.6,81.2 C828.9,80.2 831.7,79.5 834.3,78.7 C836.9,77.9 839.4,76.8 842.0,76.2 C844.6,75.7 847.0,75.4 850.0,75.4 C853.0,75.4 856.7,76.3 860.0,76.3 C863.3,76.3 867.1,75.6 870.0,75.6 C872.9,75.6 875.1,76.4 877.6,76.3 C880.1,76.2 882.5,75.8 885.0,75.1 C887.5,74.4 890.2,73.1 892.7,72.1 C895.2,71.0 897.5,69.1 900.0,68.8 C902.5,68.5 904.8,69.6 907.7,70.0 C910.7,70.4 914.8,70.5 917.7,71.3 C920.6,72.1 922.1,73.4 925.0,75.1 C927.9,76.8 932.5,79.6 935.0,81.3 C937.5,83.0 937.5,82.4 940.0,85.1 C942.5,87.8 946.6,93.4 950.0,97.6 C953.4,101.8 957.3,106.1 960.3,110.1 C963.3,114.1 965.3,117.4 967.8,121.4 C970.3,125.4 973.2,130.6 975.3,133.9 C977.4,137.2 978.6,139.4 980.3,141.4 C982.0,143.4 983.2,143.6 985.3,145.7 C987.4,147.8 990.3,151.2 992.8,154.0 C995.3,156.8 997.9,160.2 1000.4,162.7 C1002.9,165.2 1005.4,166.9 1007.9,169.0 C1010.4,171.1 1012.9,173.1 1015.4,175.3 C1017.9,177.5 1020.4,180.4 1022.9,182.3 C1025.4,184.2 1029.1,186.1 1030.3,186.8" fill="none" stroke="#ffd700" stroke-width="1.15" stroke-opacity="1.0" stroke-linejoin="round" stroke-linecap="butt"/>
</g>
<rect x="12.5" y="12.5" width="1042.0" height="582.0" stroke="#959595" stroke-width="1" fill="none"/>
<line x1="12.5" x2="1054.5" y1="428.0" y2="428.0" stroke="#7e7e7e" stroke-width="1.5"/>
<line x1="1054.5" x2="1059.4" y1="403.5" y2="403.5" stroke="#fff" stroke-width="1"/>
<text x="1063.1" y="409.1" font-size="13.33" fill="#fff">100</text>
<line x1="1054.5" x2="1059.4" y1="355.5" y2="355.5" stroke="#fff" stroke-width="1"/>
<text x="1063.1" y="361.1" font-size="13.33" fill="#fff">150</text>
<line x1="1054.5" x2="1059.4" y1="308.5" y2="308.5" stroke="#fff" stroke-width="1"/>
<text x="1063.1" y="314.1" font-size="13.33" fill="#fff">200</text>
<line x1="1054.5" x2="1059.4" y1="260.5" y2="260.5" stroke="#fff" stroke-width="1"/>
<text x="1063.1" y="266.1" font-size="13.33" fill="#fff">250</text>
<line x1="1054.5" x2="1059.4" y1="212.5" y2="212.5" stroke="#fff" stroke-width="1"/>
<text x="1063.1" y="218.1" font-size="13.33" fill="#fff">300</text>
<line x1="1054.5" x2="1059.4" y1="165.5" y2="165.5" stroke="#fff" stroke-width="1"/>
<text x="1063.1" y="171.1" font-size="13.33" fill="#fff">350</text>
<line x1="1054.5" x2="1059.4" y1="117.5" y2="117.5" stroke="#fff" stroke-width="1"/>
<text x="1063.1" y="123.1" font-size="13.33" fill="#fff">400</text>
<line x1="1054.5" x2="1059.4" y1="69.5" y2="69.5" stroke="#fff" stroke-width="1"/>
<text x="1063.1" y="75.1" font-size="13.33" fill="#fff">450</text>
<line x1="1054.5" x2="1059.4" y1="22.5" y2="22.5" stroke="#fff" stroke-width="1"/>
<text x="1063.1" y="28.1" font-size="13.33" fill="#fff">500</text>
<line x1="1054.5" x2="1059.4" y1="552.5" y2="552.5" stroke="#fff" stroke-width="1"/>
<text x="1063.1" y="557.4" font-size="13.33" fill="#fff">10</text>
<line x1="1054.5" x2="1059.4" y1="508.5" y2="508.5" stroke="#fff" stroke-width="1"/>
<text x="1063.1" y="513.4" font-size="13.33" fill="#fff">20</text>
<line x1="1054.5" x2="1059.4" y1="464.5" y2="464.5" stroke="#fff" stroke-width="1"/>
<text x="1063.1" y="469.4" font-size="13.33" fill="#fff">30</text>
<line x1="65.5" x2="65.5" y1="594.5" y2="599.4" stroke="#fff" stroke-width="1"/>
<text transform="translate(63.2,631.0) rotate(-45)" x="0" y="4.6" text-anchor="middle" font-size="13.33" fill="#fff">Apr 2025</text>
<line x1="150.5" x2="150.5" y1="594.5" y2="599.4" stroke="#fff" stroke-width="1"/>
<line x1="235.5" x2="235.5" y1="594.5" y2="599.4" stroke="#fff" stroke-width="1"/>
<text transform="translate(233.4,631.0) rotate(-45)" x="0" y="4.6" text-anchor="middle" font-size="13.33" fill="#fff">Jun 2025</text>
<line x1="316.5" x2="316.5" y1="594.5" y2="599.4" stroke="#fff" stroke-width="1"/>
<line x1="405.5" x2="405.5" y1="594.5" y2="599.4" stroke="#fff" stroke-width="1"/>
<text transform="translate(403.6,631.0) rotate(-45)" x="0" y="4.6" text-anchor="middle" font-size="13.33" fill="#fff">Aug 2025</text>
<line x1="490.5" x2="490.5" y1="594.5" y2="599.4" stroke="#fff" stroke-width="1"/>
<line x1="575.5" x2="575.5" y1="594.5" y2="599.4" stroke="#fff" stroke-width="1"/>
<text transform="translate(573.8,631.0) rotate(-45)" x="0" y="4.6" text-anchor="middle" font-size="13.33" fill="#fff">Oct 2025</text>
<line x1="669.5" x2="669.5" y1="594.5" y2="599.4" stroke="#fff" stroke-width="1"/>
<line x1="746.5" x2="746.5" y1="594.5" y2="599.4" stroke="#fff" stroke-width="1"/>
<text transform="translate(744.1,631.0) rotate(-45)" x="0" y="4.6" text-anchor="middle" font-size="13.33" fill="#fff">Dec 2025</text>
<line x1="835.5" x2="835.5" y1="594.5" y2="599.4" stroke="#fff" stroke-width="1"/>
<line x1="916.5" x2="916.5" y1="594.5" y2="599.4" stroke="#fff" stroke-width="1"/>
<text transform="translate(914.3,631.0) rotate(-45)" x="0" y="4.6" text-anchor="middle" font-size="13.33" fill="#fff">Feb 2026</text>
<line x1="993.5" x2="993.5" y1="594.5" y2="599.4" stroke="#fff" stroke-width="1"/>
<text transform="translate(1107,222.5) rotate(-90)" text-anchor="middle" font-size="13.33" fill="#fff">Preis</text>
<text transform="translate(1097,513.2) rotate(-90)" text-anchor="middle" font-size="13.33" fill="#fff">Volumen</text>
<text transform="translate(1116.6,508.3) rotate(-90)" text-anchor="middle" font-size="13.33" fill="#fff">10<tspan dy="-5" font-size="9.3">6</tspan></text>
<rect x="915" y="434" width="10" height="10" fill="#ffd700"/>
<text x="930.1" y="442.4" font-size="12.55" font-weight="bold" fill="#ffd700">SMA 20</text>
<rect x="915" y="451" width="10" height="10" fill="#ff6b6b"/>
<text x="930.1" y="459.4" font-size="12.55" font-weight="bold" fill="#ff6b6b">SMA 50</text>
<rect x="915" y="468" width="10" height="10" fill="#4ecdc4"/>
<text x="930.1" y="476.4" font-size="12.55" font-weight="bold" fill="#4ecdc4">SMA 200</text>
<path d="M848.3,28.3 L881.5,32.9" stroke="#27c268" stroke-width="2" fill="none"/>
<path d="M889,33.8 L880.7,29.7 L880,36.4 Z" fill="#27c268"/>
<rect x="747.9" y="13.2" width="97.8" height="18.5" rx="2.8" fill="#040a06" stroke="#29a75f" stroke-width="1.5"/>
<text x="796.6" y="26.1" text-anchor="middle" font-size="12.5" font-weight="bold" fill="#2dbb6a">$486.89 52W</text>
<path d="M124.5,362.3 L90.5,358" stroke="#e8453f" stroke-width="2" fill="none"/>
<path d="M83,357 L91.6,354.6 L90.6,361.4 Z" fill="#e8453f"/>
<rect x="126.9" y="360.1" width="98.3" height="18.1" rx="2.8" fill="#151313" stroke="#d4453f" stroke-width="1.5"/>
<text x="176.2" y="371.9" text-anchor="middle" font-size="12.5" font-weight="bold" fill="#e04a44">$148.25 52W</text>
</svg>
</div></body></html>
